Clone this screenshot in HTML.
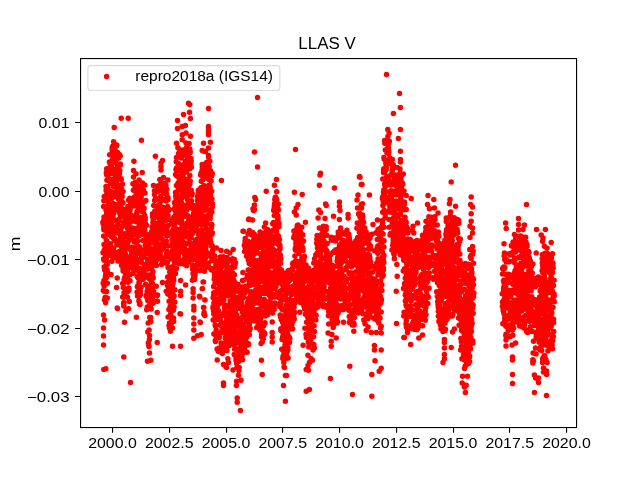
<!DOCTYPE html>
<html><head><meta charset="utf-8"><title>LLAS V</title>
<style>html,body{margin:0;padding:0;background:#fff}body{width:640px;height:480px;overflow:hidden}</style></head>
<body>
<svg width="640" height="480" viewBox="0 0 640 480" style="display:block;will-change:transform">
<rect width="640" height="480" fill="#fff"/>
<g font-family="'Liberation Sans', sans-serif" fill="#000">
<path d="M102.8 222.2h.01M103 252.7h.01M103.1 223.7h.01M103.2 283.3h.01M103.3 290.4h.01M103.6 259h.01M103.6 206.6h.01M103.7 236.1h.01M103.8 200.7h.01M103.8 228.4h.01M103.8 227.6h.01M103.8 229.7h.01M104 219.2h.01M104 244.5h.01M104 291.2h.01M104 216.9h.01M104 280.6h.01M104 260.2h.01M104.1 286.1h.01M104.2 267.1h.01M104.2 250.2h.01M104.2 217.9h.01M104.2 196.6h.01M104.3 222.4h.01M104.3 285.5h.01M104.5 300.1h.01M104.6 245.6h.01M104.7 270.1h.01M104.7 230.3h.01M104.8 251.6h.01M104.8 236.8h.01M104.9 244.6h.01M104.9 270h.01M105.1 297.5h.01M105.1 253.2h.01M105.3 250.3h.01M105.3 278.9h.01M105.4 257.2h.01M105.4 297.2h.01M105.4 276.2h.01M105.5 247.7h.01M105.5 266.2h.01M105.6 302.7h.01M105.6 227.9h.01M105.6 247.9h.01M105.8 274.1h.01M105.9 272.1h.01M105.9 227.4h.01M105.9 247h.01M106 210.1h.01M106 186.4h.01M106 254.6h.01M106.1 190.2h.01M106.1 226.5h.01M106.2 225.3h.01M106.2 251.1h.01M106.3 220.7h.01M106.3 258h.01M106.3 240.5h.01M106.3 172.9h.01M106.4 223.9h.01M106.5 261.1h.01M106.5 269.7h.01M106.5 291.4h.01M106.6 174.8h.01M106.6 189.7h.01M106.6 256.4h.01M106.6 254.2h.01M106.7 241.1h.01M106.7 264.6h.01M106.7 168.7h.01M106.7 213.1h.01M106.7 248.8h.01M106.7 277.3h.01M106.7 298.3h.01M106.8 263.9h.01M106.8 171.6h.01M106.8 193.6h.01M106.9 271.3h.01M106.9 180.3h.01M106.9 191.9h.01M106.9 230.1h.01M107.1 225.1h.01M107.1 270h.01M107.1 195.3h.01M107.1 231.2h.01M107.2 186.7h.01M107.2 264.5h.01M107.3 271.7h.01M107.3 249.2h.01M107.3 283.3h.01M107.3 298h.01M107.4 196.8h.01M107.4 211.7h.01M107.4 186.8h.01M107.5 196.7h.01M107.5 215.7h.01M107.6 274.5h.01M107.6 248.3h.01M107.6 232h.01M107.7 234.4h.01M107.7 224.7h.01M107.7 233.7h.01M107.8 212.9h.01M107.9 228.8h.01M108 194.7h.01M108.1 188.2h.01M108.2 201.8h.01M108.3 204.3h.01M108.3 195.8h.01M108.3 248.9h.01M108.3 226.6h.01M108.3 178.9h.01M108.4 225.6h.01M108.4 232.3h.01M108.5 211.4h.01M108.5 213.4h.01M108.6 198.8h.01M108.8 216.4h.01M108.8 216.7h.01M108.9 215.4h.01M109 208.3h.01M109.2 248h.01M109.3 207.5h.01M109.3 174h.01M109.4 162.1h.01M109.4 234.4h.01M109.5 219.3h.01M109.5 174.2h.01M109.7 154.8h.01M109.9 194.8h.01M109.9 217.6h.01M109.9 244.2h.01M109.9 173.1h.01M110 215.3h.01M110.1 193.1h.01M110.1 211.8h.01M110.2 230.4h.01M110.2 228.4h.01M110.2 216.5h.01M110.2 164.3h.01M110.3 197.4h.01M110.3 252.9h.01M110.3 224.9h.01M110.3 243.7h.01M110.3 171.3h.01M110.3 225.7h.01M110.4 227h.01M110.4 198.7h.01M110.5 212.7h.01M110.5 166.2h.01M110.5 222.9h.01M110.6 250h.01M110.6 191.3h.01M110.6 179.6h.01M110.7 230.2h.01M110.7 183.6h.01M110.8 195.8h.01M110.8 248.4h.01M110.9 195.7h.01M110.9 165.4h.01M111 211.3h.01M111 166.5h.01M111 246.7h.01M111 195.5h.01M111.1 165.3h.01M111.1 230.3h.01M111.2 252.3h.01M111.2 193.6h.01M111.2 236.6h.01M111.4 228h.01M111.4 223.2h.01M111.4 182.3h.01M111.4 233.7h.01M111.8 256.2h.01M111.8 255.4h.01M111.8 233.6h.01M111.9 229.8h.01M111.9 261.3h.01M111.9 198.3h.01M112 235h.01M112.1 173.3h.01M112.1 170h.01M112.2 147.8h.01M112.2 150.2h.01M112.2 149.3h.01M112.2 225.5h.01M112.4 206h.01M112.4 183h.01M112.5 146.5h.01M112.5 250.4h.01M112.5 248.8h.01M112.6 194.4h.01M112.6 159.4h.01M112.6 194.7h.01M112.7 226.6h.01M112.8 168.8h.01M112.8 215.9h.01M112.9 249.5h.01M112.9 181.2h.01M113.1 180.4h.01M113.1 171.6h.01M113.1 237.8h.01M113.2 213.4h.01M113.2 250.2h.01M113.3 203.4h.01M113.3 181.4h.01M113.5 181.3h.01M113.5 248.6h.01M113.5 250.6h.01M113.5 212.5h.01M113.6 149.1h.01M113.6 141.8h.01M113.6 186.5h.01M113.6 254.6h.01M113.7 179h.01M113.8 211.4h.01M113.8 228.7h.01M113.8 252.2h.01M113.8 220.5h.01M113.9 213.2h.01M114 219.4h.01M114 155h.01M114 178.7h.01M114.2 240h.01M114.5 238.6h.01M114.5 195.6h.01M114.8 229.5h.01M114.9 149.3h.01M115 192.5h.01M115 240.7h.01M115 179.7h.01M115.1 177.9h.01M115.1 252.9h.01M115.3 208.4h.01M115.4 163.1h.01M115.4 256.7h.01M115.5 207.9h.01M115.5 174.2h.01M115.5 177.9h.01M115.7 151.6h.01M115.8 227.2h.01M116 173.6h.01M116 205h.01M116 232.9h.01M116.1 205.1h.01M116.1 257.7h.01M116.3 254.5h.01M116.4 188h.01M116.4 232.7h.01M116.4 146h.01M116.4 227.7h.01M116.5 159.5h.01M116.5 178.9h.01M116.6 253.1h.01M116.6 181.2h.01M116.7 159.3h.01M116.7 176.1h.01M116.8 197h.01M116.8 144.9h.01M116.8 244.8h.01M116.9 206.5h.01M117.1 172.7h.01M117.1 170.8h.01M117.3 169.7h.01M117.5 152.5h.01M117.5 205.1h.01M117.6 197.5h.01M117.6 209.4h.01M117.6 166.6h.01M117.7 205.7h.01M117.7 184.9h.01M117.8 194.1h.01M117.8 224.3h.01M117.9 244.6h.01M117.9 223h.01M118 261.1h.01M118 156.9h.01M118 196.9h.01M118.1 188.8h.01M118.1 196.9h.01M118.2 198.2h.01M118.2 168.5h.01M118.3 167.4h.01M118.3 169.8h.01M118.3 171.8h.01M118.4 198.1h.01M118.4 199h.01M118.5 166.1h.01M118.5 198.5h.01M118.6 167.8h.01M118.7 158h.01M118.8 194.9h.01M118.8 193.2h.01M118.8 185.3h.01M118.9 188.2h.01M119.1 190.5h.01M119.1 219.3h.01M119.1 255.8h.01M119.2 221h.01M119.3 190.4h.01M119.3 251.6h.01M119.3 154.5h.01M119.3 203.4h.01M119.4 243.3h.01M119.5 173.9h.01M119.6 212.4h.01M119.7 244.9h.01M119.7 255.6h.01M119.7 186.2h.01M119.8 170.4h.01M119.9 239.8h.01M119.9 155.6h.01M119.9 189.2h.01M120 239.5h.01M120 187.7h.01M120.2 156.1h.01M120.2 235.3h.01M120.2 214.7h.01M120.2 238.8h.01M120.3 199.2h.01M120.3 164.1h.01M120.3 213.3h.01M120.3 205h.01M120.4 165.1h.01M120.4 255.5h.01M120.4 244.8h.01M120.5 193.7h.01M120.6 242.5h.01M120.7 253.6h.01M120.7 242.1h.01M120.8 236.7h.01M120.8 236.3h.01M120.8 230.2h.01M120.9 211.3h.01M120.9 178.6h.01M121 233.8h.01M121 205.4h.01M121 260.7h.01M121.1 196.9h.01M121.1 253.9h.01M121.1 261.5h.01M121.1 195.6h.01M121.1 238h.01M121.2 199.9h.01M121.2 246.7h.01M121.2 188.8h.01M121.2 236.9h.01M121.3 179.5h.01M121.4 245.3h.01M121.4 215h.01M121.5 216h.01M121.5 256.9h.01M121.6 265.5h.01M121.6 247.2h.01M121.6 188.9h.01M121.6 216.3h.01M121.7 214.9h.01M121.8 254.3h.01M121.9 226.8h.01M121.9 242.7h.01M122.1 212h.01M122.1 257.2h.01M122.1 226.6h.01M122.1 251.5h.01M122.2 256.5h.01M122.2 196.6h.01M122.3 192.6h.01M122.3 237.1h.01M122.4 254.8h.01M122.5 184.3h.01M122.7 283.5h.01M122.7 296.9h.01M122.7 265.7h.01M122.8 259.4h.01M122.9 209.8h.01M122.9 262.7h.01M123 241h.01M123 202.7h.01M123 268.2h.01M123 215.7h.01M123 258.5h.01M123.1 271h.01M123.1 267.9h.01M123.1 191.5h.01M123.1 214.3h.01M123.3 209.6h.01M123.3 257.3h.01M123.4 287.4h.01M123.5 260.7h.01M123.5 216.4h.01M123.5 248.8h.01M123.5 283.3h.01M123.6 303.2h.01M123.6 260.4h.01M123.7 267.9h.01M123.7 305.9h.01M123.7 249.1h.01M123.7 244.3h.01M123.8 297.2h.01M123.8 302.6h.01M123.8 253.9h.01M123.9 210h.01M123.9 305.7h.01M123.9 223.1h.01M124 292.7h.01M124 209.6h.01M124 210.9h.01M124.2 279.4h.01M124.3 223.2h.01M124.4 213.2h.01M124.4 263.3h.01M124.5 251.1h.01M124.6 245.9h.01M124.6 293.6h.01M124.8 277.2h.01M124.8 296.6h.01M124.9 220.4h.01M125 233.7h.01M125 248.7h.01M125.1 278.9h.01M125.1 248.9h.01M125.2 248.7h.01M125.3 279.4h.01M125.3 253.7h.01M125.3 215.6h.01M125.3 234.8h.01M125.5 273.4h.01M125.6 275.5h.01M125.6 214.6h.01M125.6 273.8h.01M125.7 291.4h.01M125.7 257.8h.01M125.9 218.1h.01M125.9 311.1h.01M126 245.4h.01M126 213.5h.01M126 290.1h.01M126.1 223.1h.01M126.1 272.4h.01M126.1 236.6h.01M126.2 247.2h.01M126.2 226.3h.01M126.2 214.8h.01M126.3 273.3h.01M126.3 269.6h.01M126.3 269.7h.01M126.4 271.6h.01M126.5 256.3h.01M126.5 272.4h.01M126.5 235.8h.01M126.6 280.3h.01M126.7 213h.01M126.7 216.4h.01M126.7 271.7h.01M126.8 242h.01M126.8 269.4h.01M126.9 221.6h.01M126.9 260.9h.01M127 278.6h.01M127.1 297.1h.01M127.1 224.4h.01M127.2 270.4h.01M127.2 214.4h.01M127.4 215.5h.01M127.4 227.4h.01M127.4 247.8h.01M127.5 243.6h.01M127.5 272.3h.01M127.5 297.3h.01M127.5 226h.01M127.6 208.9h.01M127.7 228.8h.01M127.7 271.5h.01M127.8 223.5h.01M127.8 279.4h.01M127.8 291.6h.01M127.9 206.4h.01M127.9 280h.01M128 265.4h.01M128 225.1h.01M128 242h.01M128.1 241.7h.01M128.1 282.3h.01M128.3 248.4h.01M128.4 210.8h.01M128.4 231.9h.01M128.5 264.6h.01M128.5 281.3h.01M128.5 268.1h.01M128.6 260.7h.01M128.6 308.7h.01M128.6 220.4h.01M128.6 200.2h.01M128.7 288.1h.01M128.8 263.8h.01M128.8 247.7h.01M128.8 248.8h.01M128.8 229.8h.01M128.9 216.2h.01M129 288.7h.01M129 220.7h.01M129 290h.01M129.1 223.5h.01M129.1 238h.01M129.1 220.7h.01M129.2 281.1h.01M129.2 257.2h.01M129.2 216.8h.01M129.3 301.5h.01M129.3 266h.01M129.6 219.8h.01M129.6 199.7h.01M129.7 233.1h.01M129.7 218.2h.01M129.8 262.4h.01M129.8 198.3h.01M129.9 219.8h.01M129.9 210.3h.01M129.9 219.2h.01M130 274.8h.01M130 280.8h.01M130 247.2h.01M130.1 220.1h.01M130.1 237.5h.01M130.2 208.6h.01M130.3 236h.01M130.4 222.3h.01M130.4 204.5h.01M130.6 247.6h.01M130.7 233.7h.01M130.8 218.2h.01M130.8 249.9h.01M131.1 238.9h.01M131.1 248h.01M131.2 216.7h.01M131.2 215.1h.01M131.5 228.3h.01M131.5 218.7h.01M131.5 220.2h.01M131.5 252.9h.01M131.6 263.4h.01M131.7 257.6h.01M132.1 228.1h.01M132.1 199.9h.01M132.2 267.1h.01M132.2 263.3h.01M132.5 247.2h.01M132.9 255.2h.01M132.9 250.8h.01M133.1 273.3h.01M133.1 268.7h.01M133.1 262.4h.01M133.4 228.3h.01M133.4 256h.01M133.4 190.3h.01M133.5 200.8h.01M133.7 260.9h.01M133.7 248.6h.01M133.8 240.3h.01M134.1 260.1h.01M134.1 241.7h.01M134.2 261.1h.01M134.2 189.7h.01M134.2 234.5h.01M134.3 197.6h.01M134.4 231h.01M134.4 233.2h.01M134.5 197h.01M134.5 240.6h.01M134.6 252h.01M134.6 247.6h.01M134.6 240.6h.01M134.7 206.1h.01M134.7 251.5h.01M134.7 248.9h.01M134.8 262.9h.01M134.8 241.8h.01M134.9 202.8h.01M135 250.8h.01M135 200.7h.01M135.1 186.5h.01M135.2 261.1h.01M135.2 221.6h.01M135.2 217.1h.01M135.2 268.3h.01M135.4 262.5h.01M135.4 198.9h.01M135.4 182.3h.01M135.5 250.9h.01M135.6 200.5h.01M135.6 264.1h.01M135.7 201.1h.01M135.8 263.6h.01M135.8 268.8h.01M135.8 221.7h.01M135.9 188.8h.01M136 205.9h.01M136 254.5h.01M136.2 192.9h.01M136.2 186.4h.01M136.2 254h.01M136.2 215.6h.01M136.3 197.1h.01M136.3 192.3h.01M136.3 265.7h.01M136.3 240.2h.01M136.4 234.9h.01M136.4 232.3h.01M136.7 185.8h.01M136.7 250.3h.01M136.7 213.3h.01M136.7 185.6h.01M136.7 188.1h.01M136.7 231.4h.01M136.8 242.3h.01M136.9 259.1h.01M136.9 230.3h.01M137 211.5h.01M137.1 276.3h.01M137.1 292.1h.01M137.1 193.1h.01M137.1 249.5h.01M137.2 259.2h.01M137.2 185.2h.01M137.3 268h.01M137.3 247.1h.01M137.4 188.4h.01M137.4 246.2h.01M137.4 286.7h.01M137.5 228h.01M137.5 296h.01M137.5 249.2h.01M137.6 234.2h.01M137.6 241h.01M137.7 285.9h.01M137.7 232.8h.01M137.8 270.5h.01M137.8 247.7h.01M137.9 247.8h.01M138 276.8h.01M138 186.6h.01M138.1 277.9h.01M138.1 275.4h.01M138.5 259.8h.01M138.6 217.3h.01M138.7 251h.01M138.7 205.9h.01M138.7 207.2h.01M138.7 187.4h.01M138.7 249.1h.01M138.8 208.9h.01M138.9 301.1h.01M138.9 207.2h.01M139 230.6h.01M139 278.2h.01M139 282.4h.01M139.1 290.3h.01M139.1 235.8h.01M139.2 283.4h.01M139.2 246.7h.01M139.2 253.4h.01M139.3 207h.01M139.3 235.2h.01M139.3 224h.01M139.4 247h.01M139.4 281.3h.01M139.4 251.3h.01M139.4 194.1h.01M139.5 303.9h.01M139.5 282.6h.01M139.6 250h.01M139.6 295.7h.01M139.6 268.5h.01M139.7 295.5h.01M139.7 259.5h.01M139.7 249.9h.01M139.7 206.7h.01M139.8 209.3h.01M139.9 303.1h.01M139.9 220.6h.01M139.9 209.6h.01M140 280h.01M140 207.7h.01M140 304.6h.01M140 249.6h.01M140 289.7h.01M140 186.3h.01M140.1 259.9h.01M140.3 291.6h.01M140.3 217.5h.01M140.4 262h.01M140.4 202.8h.01M140.4 294.5h.01M140.5 190.1h.01M140.5 261.1h.01M140.5 201h.01M140.6 259.4h.01M140.6 270.9h.01M140.9 221.7h.01M141 287.2h.01M141.1 261h.01M141.2 197.1h.01M141.3 273.2h.01M141.3 233.3h.01M141.3 249.8h.01M141.5 255.8h.01M141.5 202.2h.01M141.6 262.5h.01M141.6 186.1h.01M141.7 211.2h.01M141.8 256.5h.01M142 223.3h.01M142 192.6h.01M142.1 202.6h.01M142.1 234.2h.01M142.2 204.3h.01M142.4 183.1h.01M142.5 211.8h.01M142.5 191.3h.01M142.5 222.4h.01M142.6 254.5h.01M142.6 271.6h.01M142.7 227.7h.01M142.8 193.5h.01M142.9 240.5h.01M142.9 231.9h.01M143.1 268.9h.01M143.1 279.2h.01M143.1 256.2h.01M143.4 193.1h.01M143.4 190.3h.01M143.4 222.2h.01M143.5 274.4h.01M143.5 212.1h.01M143.6 229.9h.01M143.7 275.3h.01M143.8 231.5h.01M143.8 255.7h.01M143.8 275.5h.01M143.8 255.3h.01M143.8 257.2h.01M143.8 255h.01M143.9 231.6h.01M144 230.9h.01M144 224.9h.01M144.1 208.1h.01M144.2 269h.01M144.2 221.9h.01M144.2 267.8h.01M144.3 234.6h.01M144.3 269.1h.01M144.4 269.9h.01M144.4 264.6h.01M144.4 201.8h.01M144.5 274.1h.01M144.6 229.1h.01M144.6 215.2h.01M144.6 267.4h.01M144.9 231.6h.01M145 193h.01M145.1 277.6h.01M145.1 233.4h.01M145.2 219.7h.01M145.2 217.7h.01M145.2 245.5h.01M145.2 265.6h.01M145.3 223.4h.01M145.4 268.1h.01M145.5 284.6h.01M145.6 224.4h.01M145.8 247h.01M145.9 200.6h.01M146 284.6h.01M146.1 296.2h.01M146.2 265.2h.01M146.2 265.2h.01M146.2 249.9h.01M146.2 237.8h.01M146.2 251.6h.01M146.5 235.5h.01M146.5 225.3h.01M146.6 294.7h.01M146.7 309.7h.01M146.9 241.3h.01M147 253.6h.01M147 240.6h.01M147.1 291.2h.01M147.1 264.5h.01M147.2 307.1h.01M147.3 248h.01M147.3 297.2h.01M147.4 253.8h.01M147.4 242.1h.01M147.4 275.8h.01M147.5 290.9h.01M147.5 298.4h.01M147.6 297.7h.01M147.6 298h.01M147.7 307.6h.01M147.7 260.4h.01M147.8 292.5h.01M147.8 287.4h.01M147.8 300.5h.01M147.8 261.6h.01M147.8 331.9h.01M148 254.1h.01M148 266.9h.01M148 269.1h.01M148 267.3h.01M148.1 275h.01M148.2 323.1h.01M148.2 259.4h.01M148.3 253.5h.01M148.3 343.1h.01M148.4 244.2h.01M148.4 249.2h.01M148.5 260h.01M148.7 295.2h.01M148.9 289h.01M148.9 266.8h.01M148.9 240.7h.01M148.9 300.3h.01M148.9 243.8h.01M148.9 247h.01M149 242.8h.01M149 346.5h.01M149.1 329.9h.01M149.1 296h.01M149.1 290.6h.01M149.1 308.5h.01M149.3 254h.01M149.3 259.3h.01M149.3 247.4h.01M149.4 339.5h.01M149.4 288.3h.01M149.5 335.6h.01M149.5 305.2h.01M149.5 279.1h.01M149.6 265.9h.01M149.6 254.6h.01M149.6 286.2h.01M149.6 305.6h.01M149.7 317.5h.01M149.7 265.3h.01M149.8 276h.01M149.9 243.1h.01M149.9 234.2h.01M150 285.9h.01M150.1 261.1h.01M150.1 307.7h.01M150.1 289.1h.01M150.2 235.6h.01M150.3 260.7h.01M150.4 306.5h.01M150.4 290h.01M150.4 260.1h.01M150.6 291.1h.01M150.6 285.6h.01M150.6 236.1h.01M150.7 321.8h.01M150.7 317.5h.01M150.7 251.9h.01M150.9 287.5h.01M151 234.9h.01M151 264.7h.01M151 299.5h.01M151.1 297.3h.01M151.1 309h.01M151.2 274.6h.01M151.2 290.6h.01M151.3 280.9h.01M151.4 280.1h.01M151.4 252.5h.01M151.6 282.9h.01M151.6 259.9h.01M151.7 267.6h.01M151.7 231.6h.01M151.7 297.6h.01M151.8 240.3h.01M151.9 251.1h.01M151.9 254.1h.01M151.9 284.2h.01M152 257.9h.01M152 289.9h.01M152.1 227h.01M152.2 297.4h.01M152.2 249.4h.01M152.3 274.9h.01M152.3 254.9h.01M152.3 249h.01M152.4 290.1h.01M152.5 255.7h.01M152.5 213.8h.01M152.6 283.9h.01M152.6 216.7h.01M152.6 294.9h.01M152.7 295h.01M152.7 258.7h.01M152.8 296.6h.01M152.8 242.6h.01M152.8 257.2h.01M152.8 291.8h.01M152.9 222.4h.01M152.9 271.6h.01M152.9 214.3h.01M152.9 214.9h.01M153 260.8h.01M153.1 303.3h.01M153.2 252.8h.01M153.2 255.3h.01M153.2 262.1h.01M153.2 278.1h.01M153.2 219.4h.01M153.2 220h.01M153.2 224.3h.01M153.3 225.2h.01M153.4 300.4h.01M153.4 257.3h.01M153.4 227.2h.01M153.6 291.4h.01M153.7 205.5h.01M153.9 224.2h.01M154 262.3h.01M154 237.7h.01M154.2 254h.01M154.2 256.1h.01M154.5 190.7h.01M154.5 194.6h.01M154.6 200.4h.01M154.6 213.7h.01M154.7 211.7h.01M154.7 249.5h.01M154.9 235.6h.01M154.9 210.9h.01M154.9 261.6h.01M155.1 229.3h.01M155.2 248.8h.01M155.2 241.8h.01M155.2 239.3h.01M155.4 228h.01M155.4 228h.01M155.4 244.5h.01M155.4 235.7h.01M155.4 237.2h.01M155.5 217.2h.01M155.5 223.2h.01M155.5 251.1h.01M155.6 259.4h.01M155.7 198.4h.01M155.7 213.7h.01M155.7 227.7h.01M155.8 230.5h.01M155.9 238.3h.01M155.9 260.8h.01M155.9 248.8h.01M155.9 251.9h.01M155.9 234.6h.01M156 235.6h.01M156 261.1h.01M156 216.3h.01M156.1 261.3h.01M156.2 247.1h.01M156.3 265.6h.01M156.4 243.5h.01M156.5 255.9h.01M156.6 244h.01M156.7 241.4h.01M156.7 245.1h.01M156.7 224.4h.01M156.7 249.2h.01M157 240.2h.01M157 213.7h.01M157.1 207h.01M157.1 186.2h.01M157.2 256.6h.01M157.3 251.8h.01M157.4 186.3h.01M157.4 255.6h.01M157.4 216h.01M157.5 252.4h.01M157.5 250.3h.01M157.7 256.4h.01M157.9 237.1h.01M157.9 191.4h.01M158 236.4h.01M158.1 188.7h.01M158.2 224.6h.01M158.2 248.6h.01M158.3 205.3h.01M158.4 236.3h.01M158.5 224.6h.01M158.6 254.3h.01M158.7 210.1h.01M158.7 208h.01M158.8 199.2h.01M158.8 252.7h.01M158.9 226.9h.01M158.9 230.8h.01M159 187.4h.01M159 186.1h.01M159.2 228.3h.01M159.2 218.3h.01M159.3 253h.01M159.3 248.1h.01M159.4 216.6h.01M159.4 210.1h.01M159.4 221.9h.01M159.5 205.6h.01M159.7 228.3h.01M159.7 237h.01M159.8 248.4h.01M159.8 203.4h.01M159.9 216.8h.01M160.1 197.5h.01M160.1 212.8h.01M160.2 252.2h.01M160.2 197.4h.01M160.2 255.1h.01M160.2 222.4h.01M160.3 223.1h.01M160.3 215.2h.01M160.3 226.9h.01M160.4 229.5h.01M160.5 185h.01M160.6 214.3h.01M160.6 233.4h.01M160.6 250h.01M160.7 210h.01M160.7 257.9h.01M160.7 211h.01M160.8 257.5h.01M160.8 201h.01M160.8 196.2h.01M160.9 198.5h.01M160.9 258.7h.01M161 185.7h.01M161 246.4h.01M161.2 190h.01M161.3 200.5h.01M161.4 219.6h.01M161.5 244h.01M161.5 218.5h.01M161.5 250.1h.01M161.6 209.5h.01M161.6 264.5h.01M161.7 259.8h.01M161.7 234.2h.01M161.8 259.3h.01M161.8 185.8h.01M162 245.4h.01M162 199h.01M162 190.3h.01M162.1 246.1h.01M162.1 239h.01M162.2 263.7h.01M162.3 188.1h.01M162.4 263.2h.01M162.4 233.2h.01M162.4 226.3h.01M162.5 262.5h.01M162.5 223.7h.01M162.6 223.3h.01M162.6 245.4h.01M162.8 262.9h.01M162.8 222h.01M162.9 185.3h.01M162.9 224.3h.01M163.1 191.4h.01M163.2 189.2h.01M163.2 244.5h.01M163.3 262.7h.01M163.3 231.8h.01M163.3 247.8h.01M163.3 208.1h.01M163.4 183.6h.01M163.5 207.8h.01M163.5 207.5h.01M163.6 212.3h.01M163.9 242.2h.01M163.9 216.1h.01M164 208.9h.01M164.2 245h.01M164.3 183.6h.01M164.4 211.7h.01M164.5 261.7h.01M164.5 243.1h.01M164.6 243.3h.01M164.7 230.6h.01M164.8 242.9h.01M164.9 185.6h.01M164.9 217.7h.01M165.1 231.7h.01M165.1 186.2h.01M165.2 226.8h.01M165.5 231.5h.01M165.6 193.7h.01M165.6 193.1h.01M165.8 256.6h.01M165.8 199.1h.01M165.9 185.2h.01M165.9 230.1h.01M166 229.3h.01M166.1 216.5h.01M166.1 263.1h.01M166.2 200.9h.01M166.4 241.2h.01M166.4 220.2h.01M166.4 256.4h.01M166.5 194h.01M166.5 233.3h.01M166.5 228.7h.01M166.5 253.4h.01M166.5 262.5h.01M166.6 189.4h.01M166.8 189.6h.01M166.8 235.2h.01M166.9 229.3h.01M167 251.3h.01M167 235.9h.01M167.1 219.7h.01M167.4 262.3h.01M167.5 254.8h.01M167.5 285.6h.01M167.6 235.8h.01M167.6 215.6h.01M167.7 206.4h.01M167.7 282.3h.01M167.7 277h.01M167.8 294.1h.01M167.8 286h.01M167.9 199.8h.01M167.9 216.1h.01M168 267h.01M168 197.7h.01M168 255.9h.01M168.1 215.7h.01M168.1 245.9h.01M168.1 267.4h.01M168.1 317.1h.01M168.1 256h.01M168.2 286.8h.01M168.3 225.6h.01M168.4 255.8h.01M168.5 255h.01M168.6 284.1h.01M168.6 210.5h.01M168.9 309.6h.01M169.1 301.2h.01M169.1 288.7h.01M169.1 325.5h.01M169.2 209.4h.01M169.2 267.7h.01M169.3 309.7h.01M169.5 233.9h.01M169.5 328.1h.01M169.5 322.9h.01M169.6 257h.01M169.7 271.9h.01M169.8 287.9h.01M170.1 324.3h.01M170.2 306.3h.01M170.2 287.4h.01M170.3 286.4h.01M170.4 296h.01M170.4 232.9h.01M170.5 273.9h.01M170.6 314.2h.01M170.6 276.4h.01M170.7 313.6h.01M170.8 272h.01M170.8 274.1h.01M170.8 325.7h.01M170.8 300.2h.01M170.8 323.5h.01M170.9 324.9h.01M171 258.7h.01M171 296.6h.01M171.1 305.3h.01M171.1 279.6h.01M171.3 274.2h.01M171.3 297.8h.01M171.3 282h.01M171.4 257.3h.01M171.4 266.9h.01M171.4 221h.01M171.5 274.9h.01M171.5 297.3h.01M171.5 292.3h.01M171.5 295.4h.01M171.6 321.4h.01M171.7 305.6h.01M171.8 245.2h.01M171.8 320.9h.01M171.8 273.4h.01M172 239.4h.01M172 244.3h.01M172.1 223.5h.01M172.1 293.3h.01M172.1 321.3h.01M172.2 234.6h.01M172.2 272.9h.01M172.3 251h.01M172.3 279.9h.01M172.3 292.9h.01M172.4 234.3h.01M172.4 219.4h.01M172.4 286.8h.01M172.5 327.9h.01M172.6 283.4h.01M172.6 284h.01M172.6 253.3h.01M172.6 281.4h.01M172.7 318.8h.01M172.8 245.9h.01M172.8 293.6h.01M172.8 310.4h.01M172.8 230.3h.01M172.9 281.4h.01M172.9 310.5h.01M172.9 221.8h.01M173 283.6h.01M173 268.7h.01M173 248.6h.01M173.1 249.3h.01M173.1 308.3h.01M173.2 297h.01M173.3 296.3h.01M173.3 247.7h.01M173.3 277.4h.01M173.5 305.9h.01M173.5 310h.01M173.5 257.5h.01M173.5 297h.01M173.5 243.8h.01M173.5 318h.01M173.6 278.5h.01M173.7 321.6h.01M173.7 280.8h.01M173.8 228.6h.01M173.8 217.3h.01M174 224.5h.01M174 230.1h.01M174 225.7h.01M174.1 296.1h.01M174.1 244.6h.01M174.1 306.8h.01M174.3 208.9h.01M174.4 208.7h.01M174.4 261.8h.01M174.5 202.8h.01M174.5 263h.01M174.5 253.3h.01M174.6 244.4h.01M174.7 233.3h.01M174.8 202.3h.01M174.8 226.9h.01M174.8 301.9h.01M174.9 289.7h.01M174.9 254.6h.01M175 207.3h.01M175 210.5h.01M175.4 255.4h.01M175.4 215.3h.01M175.5 192.4h.01M175.5 238h.01M175.5 273.5h.01M175.5 174.4h.01M175.5 268.3h.01M175.7 196.1h.01M175.9 196.5h.01M175.9 254.8h.01M176 198.1h.01M176 169.6h.01M176 234.1h.01M176.1 242.6h.01M176.1 233.2h.01M176.1 242.4h.01M176.2 161.7h.01M176.3 193.3h.01M176.4 168.3h.01M176.4 185.5h.01M176.5 268.4h.01M176.5 205.7h.01M176.5 157.4h.01M176.5 232.9h.01M176.5 248.4h.01M176.5 197h.01M176.6 245.4h.01M176.6 198.7h.01M176.7 175.4h.01M176.7 206.7h.01M176.7 222.1h.01M176.7 257.3h.01M176.7 170.7h.01M176.8 204h.01M176.8 176.1h.01M176.8 176h.01M177 222.1h.01M177 199.7h.01M177 208.3h.01M177.1 207.4h.01M177.3 167.8h.01M177.3 168.8h.01M177.5 200h.01M177.5 242h.01M177.5 248.1h.01M177.5 210.1h.01M177.5 216.3h.01M177.6 185.7h.01M177.6 218.2h.01M177.8 248.8h.01M177.8 166.4h.01M177.9 147.8h.01M177.9 235.3h.01M178 235.1h.01M178 182.9h.01M178.1 263.1h.01M178.3 189.3h.01M178.4 256.3h.01M178.4 214.6h.01M178.4 163.4h.01M178.4 198.1h.01M178.4 247.6h.01M178.4 167.9h.01M178.5 153.6h.01M178.6 208.7h.01M178.6 213.4h.01M178.6 163.7h.01M178.7 199.1h.01M178.7 199.2h.01M178.7 205.8h.01M178.8 242.2h.01M178.8 204.9h.01M178.8 182.6h.01M178.9 210h.01M178.9 263.5h.01M179 177.9h.01M179 253.1h.01M179.1 184.1h.01M179.1 211.9h.01M179.2 211.4h.01M179.2 229.6h.01M179.2 260.3h.01M179.2 166.8h.01M179.3 199.6h.01M179.4 181h.01M179.4 220.9h.01M179.5 176.4h.01M179.6 153.3h.01M179.7 200.3h.01M179.7 151.9h.01M179.8 247.3h.01M179.8 149.9h.01M179.8 260.9h.01M180 261.8h.01M180.2 197.4h.01M180.3 220.9h.01M180.3 246.7h.01M180.3 196.5h.01M180.3 261.9h.01M180.3 262.3h.01M180.4 183.5h.01M180.5 168.3h.01M180.5 171.1h.01M180.6 151.2h.01M180.6 182.2h.01M180.6 236.9h.01M180.6 247.3h.01M180.7 223.3h.01M180.8 238.9h.01M180.8 244.9h.01M180.9 263.5h.01M181.1 158h.01M181.2 219.9h.01M181.3 222.1h.01M181.3 153h.01M181.3 209.9h.01M181.4 246.5h.01M181.4 228.2h.01M181.4 150.3h.01M181.4 165.6h.01M181.5 166.2h.01M181.6 234h.01M181.6 214.2h.01M181.6 219h.01M181.6 185.8h.01M181.7 246.2h.01M181.7 210.1h.01M181.7 167.7h.01M181.7 191.7h.01M181.7 198.3h.01M181.7 203.1h.01M181.7 243.7h.01M181.8 186.1h.01M181.8 172.5h.01M181.8 234.9h.01M181.9 175.1h.01M182 224.6h.01M182.1 194.1h.01M182.1 168.3h.01M182.1 208.1h.01M182.2 240.6h.01M182.2 237.4h.01M182.2 165.2h.01M182.3 183.8h.01M182.3 237.5h.01M182.3 166.5h.01M182.3 223.4h.01M182.3 187.6h.01M182.4 155.9h.01M182.4 179.8h.01M182.5 250.4h.01M182.5 207h.01M182.5 235.6h.01M182.6 181.4h.01M182.6 175.1h.01M182.6 187.2h.01M182.7 251.9h.01M182.7 166.4h.01M182.7 168.1h.01M182.8 184.5h.01M182.9 248.7h.01M182.9 151.5h.01M182.9 152.4h.01M182.9 234.1h.01M183 183.8h.01M183.1 250.3h.01M183.1 208.6h.01M183.1 185.1h.01M183.2 261.9h.01M183.2 249.8h.01M183.3 242.4h.01M183.3 207.5h.01M183.4 149.9h.01M183.4 173.8h.01M183.4 233h.01M183.5 166.2h.01M183.5 209.4h.01M183.6 186.8h.01M183.6 180.8h.01M183.6 232.9h.01M183.7 211h.01M183.7 152h.01M183.7 211.1h.01M183.8 166.8h.01M183.9 246.8h.01M184 236h.01M184.1 164.5h.01M184.1 253.2h.01M184.1 172.2h.01M184.1 205.7h.01M184.2 231h.01M184.3 259h.01M184.3 247.1h.01M184.4 164.1h.01M184.4 212h.01M184.5 264.2h.01M184.6 263.1h.01M184.7 259.3h.01M184.7 255h.01M184.7 231.6h.01M184.8 249.2h.01M184.9 228.6h.01M185 234.2h.01M185 151.2h.01M185 196.4h.01M185.1 249.6h.01M185.1 231.7h.01M185.1 181.7h.01M185.2 212.3h.01M185.2 206.9h.01M185.2 257.6h.01M185.2 179.1h.01M185.3 161.1h.01M185.4 234.1h.01M185.4 181.1h.01M185.5 170.3h.01M185.6 249.7h.01M185.6 211.1h.01M185.6 188h.01M185.6 152.5h.01M185.7 216.3h.01M185.7 224.4h.01M185.8 252.2h.01M185.9 168.7h.01M185.9 179.8h.01M185.9 205.5h.01M186.1 208.5h.01M186.2 208.6h.01M186.2 164.8h.01M186.3 168.2h.01M186.3 236.1h.01M186.4 255.1h.01M186.4 205.6h.01M186.4 194.6h.01M186.4 264.2h.01M186.4 171.7h.01M186.4 259.2h.01M186.5 147.7h.01M186.6 195.6h.01M186.6 165.5h.01M186.7 265.8h.01M186.7 223.2h.01M186.7 210.2h.01M186.7 183.2h.01M186.7 235h.01M186.7 149h.01M186.8 235.5h.01M186.8 209.4h.01M186.8 216.4h.01M186.8 237h.01M186.8 153.4h.01M186.9 183.4h.01M187 189.9h.01M187 193.3h.01M187 192h.01M187.2 148.9h.01M187.2 163.6h.01M187.2 243.5h.01M187.4 243.1h.01M187.4 223.4h.01M187.5 156.8h.01M187.5 148.1h.01M187.5 223.9h.01M187.5 204.3h.01M187.5 149h.01M187.5 150.8h.01M187.5 215.6h.01M187.6 161.9h.01M187.6 199.8h.01M187.8 180.1h.01M187.8 195.5h.01M187.8 180.4h.01M187.9 200.1h.01M187.9 236.4h.01M188 162.9h.01M188.1 149.9h.01M188.1 155.5h.01M188.2 165.2h.01M188.2 160.1h.01M188.3 156.6h.01M188.3 182.5h.01M188.4 226.5h.01M188.4 217.9h.01M188.4 257.4h.01M188.5 168.4h.01M188.6 237.6h.01M188.6 166.4h.01M188.7 221.4h.01M188.7 262h.01M188.8 166.1h.01M188.8 193h.01M188.8 166.1h.01M188.8 186.2h.01M188.9 204.4h.01M189 216.7h.01M189.1 227h.01M189.2 242.2h.01M189.2 183.4h.01M189.2 251.7h.01M189.3 158.9h.01M189.3 217.1h.01M189.3 260.5h.01M189.3 165.8h.01M189.4 231.9h.01M189.4 207.2h.01M189.4 259.9h.01M189.4 183.9h.01M189.6 232.7h.01M189.6 223.9h.01M189.7 236.4h.01M189.7 168.7h.01M189.7 149h.01M189.8 159.4h.01M189.8 175.6h.01M189.8 163.6h.01M189.8 184.1h.01M189.9 222.2h.01M190 152.7h.01M190 250h.01M190.1 194h.01M190.1 244h.01M190.2 257.2h.01M190.2 151.5h.01M190.2 180.9h.01M190.5 223.8h.01M190.5 166.4h.01M190.6 206.7h.01M190.6 164.1h.01M190.7 256.4h.01M190.9 164.1h.01M190.9 256.9h.01M191 158.6h.01M191 218.4h.01M191.1 243.4h.01M191.1 166.3h.01M191.1 232.5h.01M191.1 256.7h.01M191.1 237.9h.01M191.2 160.9h.01M191.2 190.2h.01M191.2 247.5h.01M191.3 243.6h.01M191.4 167.3h.01M191.4 200.8h.01M191.4 255.6h.01M191.5 244.2h.01M191.5 250.9h.01M191.8 195.3h.01M191.9 256.1h.01M191.9 246.7h.01M191.9 220.3h.01M192 220.3h.01M192 246.5h.01M192 218.6h.01M192 243.8h.01M192.1 207.3h.01M192.1 193.5h.01M192.1 219.7h.01M192.2 234.1h.01M192.4 244.1h.01M192.4 280.3h.01M192.4 208.5h.01M192.6 249.8h.01M192.6 269.1h.01M192.7 265.9h.01M192.8 222.9h.01M192.8 245.2h.01M192.8 265.1h.01M192.9 205.2h.01M192.9 229.3h.01M193 273.4h.01M193.1 207.9h.01M193.1 250.9h.01M193.2 259.6h.01M193.3 221.7h.01M193.3 245.8h.01M193.3 221.3h.01M193.4 250.3h.01M193.5 213.5h.01M193.6 277.4h.01M193.6 279.7h.01M193.6 252h.01M193.7 214.9h.01M193.7 247.5h.01M193.8 248.1h.01M194 227.5h.01M194.1 219.1h.01M194.1 249.6h.01M194.1 250.4h.01M194.1 249.1h.01M194.2 218.7h.01M194.2 216.9h.01M194.2 213.8h.01M194.2 226.8h.01M194.3 211.8h.01M194.3 274.7h.01M194.5 279.4h.01M194.5 229.4h.01M194.6 254h.01M194.6 277.6h.01M194.7 243.8h.01M194.9 222.4h.01M194.9 273.6h.01M195 275.4h.01M195.1 253.6h.01M195.2 216.4h.01M195.2 265.2h.01M195.2 272.7h.01M195.4 210.9h.01M195.7 230.8h.01M195.7 240.4h.01M195.8 229.7h.01M196.1 268.4h.01M196.2 247.8h.01M196.3 227.7h.01M196.3 214.5h.01M196.3 243.3h.01M196.4 266.1h.01M196.4 239.5h.01M196.5 246.8h.01M196.6 207.7h.01M196.6 221.6h.01M196.6 265.7h.01M196.8 247h.01M197 205.9h.01M197.1 259h.01M197.1 224.9h.01M197.2 230h.01M197.2 248.9h.01M197.3 242h.01M197.3 215.2h.01M197.4 240.1h.01M197.4 217.7h.01M197.4 200.6h.01M197.4 208h.01M197.5 223.6h.01M197.5 243.9h.01M197.6 210.7h.01M197.6 261.5h.01M197.6 196.5h.01M197.7 213.7h.01M197.8 223h.01M197.9 209.9h.01M197.9 262.2h.01M197.9 263.4h.01M198 250.9h.01M198 250.3h.01M198.1 213.3h.01M198.1 203.6h.01M198.1 194.9h.01M198.1 242.5h.01M198.1 242.3h.01M198.2 218.9h.01M198.2 251.1h.01M198.3 258.9h.01M198.3 252.2h.01M198.3 190.3h.01M198.4 255.6h.01M198.4 203.5h.01M198.4 196.1h.01M198.4 253.1h.01M198.4 234.8h.01M198.5 261h.01M198.6 191.8h.01M198.8 198.1h.01M198.9 220.7h.01M198.9 254.4h.01M199 203.8h.01M199.1 234.9h.01M199.1 206.1h.01M199.2 244.3h.01M199.2 244.7h.01M199.2 232.8h.01M199.3 222.5h.01M199.3 205.7h.01M199.3 236.2h.01M199.4 208.8h.01M199.4 245.5h.01M199.4 239.8h.01M199.5 220.7h.01M199.5 191.2h.01M199.6 189.4h.01M199.6 221.6h.01M199.6 253.3h.01M199.8 240.1h.01M199.8 208.2h.01M199.8 234h.01M199.9 192.1h.01M199.9 232.7h.01M199.9 259.9h.01M199.9 260.3h.01M200 260.6h.01M200 200.3h.01M200 252.1h.01M200 254.9h.01M200.2 222.4h.01M200.2 259.1h.01M200.3 204.5h.01M200.3 234.2h.01M200.3 251.5h.01M200.3 200.2h.01M200.4 220h.01M200.4 218.6h.01M200.5 213.3h.01M200.5 214.9h.01M200.5 223.3h.01M200.6 235.4h.01M200.6 174.9h.01M200.7 249.4h.01M200.7 189.1h.01M200.8 224.6h.01M200.8 234.7h.01M200.9 216.8h.01M200.9 250.6h.01M200.9 187.7h.01M200.9 250.4h.01M201 173.3h.01M201 264.5h.01M201 237.7h.01M201.1 197.7h.01M201.2 235.4h.01M201.2 197.6h.01M201.2 224.8h.01M201.3 188.5h.01M201.3 181.2h.01M201.4 199.9h.01M201.5 199.8h.01M201.5 201.1h.01M201.5 197.9h.01M201.6 229.8h.01M201.6 231.6h.01M201.6 189.2h.01M201.6 266.3h.01M201.6 230.1h.01M201.7 230.8h.01M201.8 247.7h.01M201.9 252.7h.01M201.9 243.6h.01M202 170.7h.01M202 240.5h.01M202.1 203.8h.01M202.1 258h.01M202.1 205.6h.01M202.1 217.8h.01M202.1 244h.01M202.2 242.4h.01M202.2 240.3h.01M202.3 205.5h.01M202.3 167.6h.01M202.3 250.8h.01M202.4 190.6h.01M202.5 246h.01M202.5 199.9h.01M202.6 169.2h.01M202.7 234.9h.01M202.8 179.7h.01M202.8 200.3h.01M202.9 215.7h.01M203 194.8h.01M203.1 187.5h.01M203.1 236.7h.01M203.1 168.7h.01M203.1 200.6h.01M203.2 261.3h.01M203.2 217.8h.01M203.3 188.2h.01M203.3 221.1h.01M203.3 238.8h.01M203.4 190.2h.01M203.6 192.3h.01M203.6 172.5h.01M203.6 220h.01M203.7 185.9h.01M203.7 165.7h.01M203.8 165.9h.01M203.8 208.9h.01M203.8 242.3h.01M203.8 200.2h.01M203.9 173.8h.01M204.1 203.2h.01M204.1 194.4h.01M204.1 200.4h.01M204.1 250.5h.01M204.2 185.8h.01M204.3 210.2h.01M204.4 224.3h.01M204.4 255h.01M204.5 251.7h.01M204.5 164.2h.01M204.5 189.2h.01M204.5 260.9h.01M204.5 167.3h.01M204.6 221.1h.01M204.7 176.3h.01M204.7 164.7h.01M204.7 254.9h.01M204.8 254.7h.01M204.8 251.6h.01M204.9 251.4h.01M205 165.2h.01M205.1 206.5h.01M205.3 170.2h.01M205.3 266.6h.01M205.3 262.9h.01M205.4 192.5h.01M205.4 244.2h.01M205.4 247h.01M205.7 257.8h.01M205.7 176.4h.01M205.7 195.1h.01M205.7 244.2h.01M205.8 175.7h.01M205.8 229.1h.01M205.8 190h.01M205.9 168.3h.01M205.9 247h.01M206 187.7h.01M206 250.7h.01M206.1 163.8h.01M206.3 208.4h.01M206.4 192.2h.01M206.4 205.3h.01M206.5 254h.01M206.5 177.1h.01M206.5 229.1h.01M206.5 265.9h.01M206.5 198.5h.01M206.5 239.2h.01M206.5 236.4h.01M206.6 176.2h.01M206.6 221.6h.01M206.7 216.7h.01M206.7 233.5h.01M206.8 243.3h.01M206.8 162.3h.01M206.9 216.8h.01M206.9 215.9h.01M206.9 241.1h.01M206.9 170.6h.01M206.9 241.9h.01M207 173.6h.01M207.2 223.9h.01M207.2 265.6h.01M207.2 239.5h.01M207.2 175h.01M207.2 164.1h.01M207.2 234.1h.01M207.3 171.3h.01M207.4 166.5h.01M207.4 178.3h.01M207.7 173.6h.01M207.8 164.5h.01M208 266.1h.01M208 175.4h.01M208.2 172.5h.01M208.3 165.4h.01M208.3 262.9h.01M208.3 187.4h.01M208.3 265.9h.01M208.4 230.5h.01M208.4 218.5h.01M208.5 267.3h.01M208.5 179.2h.01M208.6 185.6h.01M208.7 202.6h.01M208.7 185.7h.01M208.7 165.9h.01M208.9 194.8h.01M208.9 232.1h.01M209 185h.01M209.1 166.5h.01M209.1 213.6h.01M209.2 216h.01M209.3 255.8h.01M209.3 255.4h.01M209.3 254.4h.01M209.6 268.1h.01M209.6 178.5h.01M209.6 203.6h.01M209.7 185.5h.01M209.7 189.2h.01M209.7 196.1h.01M209.8 212.3h.01M209.8 201.4h.01M209.9 202.6h.01M210 213h.01M210.1 237.6h.01M210.2 218.6h.01M210.2 187.6h.01M210.2 239.7h.01M210.2 216.7h.01M210.2 196.9h.01M210.2 254.9h.01M210.3 171.9h.01M210.5 195.2h.01M210.5 170.7h.01M210.6 253.5h.01M210.6 214.1h.01M210.7 255.4h.01M210.8 212.8h.01M210.9 209.5h.01M210.9 242.6h.01M210.9 190.9h.01M211.1 254.9h.01M211.1 180.8h.01M211.2 176.1h.01M211.3 200h.01M211.3 210.8h.01M211.4 233.6h.01M211.5 246.1h.01M211.5 269.9h.01M211.5 244.8h.01M211.5 270h.01M211.5 227.8h.01M211.5 224.4h.01M211.6 174.6h.01M211.6 256h.01M211.6 175.8h.01M211.6 175.9h.01M211.7 234.4h.01M211.7 191.3h.01M211.8 224.4h.01M211.8 211.9h.01M211.8 260.2h.01M211.9 198.9h.01M211.9 259.5h.01M211.9 260.8h.01M211.9 203.4h.01M212 254.9h.01M212.2 174h.01M212.2 173.4h.01M212.3 206.9h.01M212.3 232.8h.01M212.3 259.8h.01M212.3 245.9h.01M212.5 204.1h.01M212.5 251.5h.01M212.6 256.6h.01M212.6 250.4h.01M212.7 260.3h.01M212.9 307.7h.01M213.1 297.8h.01M213.1 306.8h.01M213.2 258.3h.01M213.2 320h.01M213.4 255.3h.01M213.5 256.3h.01M213.6 286.5h.01M213.6 310.9h.01M213.7 294.9h.01M213.8 313.9h.01M213.8 292.7h.01M213.9 334.1h.01M213.9 303h.01M214.1 268.2h.01M214.2 279.2h.01M214.2 298.9h.01M214.2 333.7h.01M214.5 295h.01M214.5 303.8h.01M214.5 274h.01M214.6 310.4h.01M214.6 276h.01M214.6 256h.01M214.6 294.2h.01M214.7 299.9h.01M214.8 301.9h.01M215.1 283.3h.01M215.2 325.1h.01M215.2 317.6h.01M215.3 319.6h.01M215.3 340.5h.01M215.4 314.1h.01M215.4 276.7h.01M215.5 326h.01M215.5 341.4h.01M215.5 299.4h.01M215.6 335h.01M215.7 335.5h.01M215.7 273.5h.01M215.8 264.8h.01M216 276.3h.01M216 333.4h.01M216.1 304.6h.01M216.2 330.1h.01M216.2 310.8h.01M216.3 265.4h.01M216.3 317.8h.01M216.4 260.9h.01M216.6 260.8h.01M216.7 292.9h.01M216.7 319.2h.01M216.8 303.6h.01M216.8 319.4h.01M216.9 319.1h.01M217.1 306.7h.01M217.1 348.9h.01M217.2 309.1h.01M217.2 311.1h.01M217.3 333.6h.01M217.5 289.3h.01M217.6 292.3h.01M217.7 279.2h.01M217.7 278.9h.01M218 314.5h.01M218 291.6h.01M218.1 304.7h.01M218.1 334.5h.01M218.2 335.2h.01M218.2 351.3h.01M218.4 310.6h.01M218.7 292.2h.01M218.7 333.5h.01M218.7 293.1h.01M218.7 348.3h.01M218.8 348.4h.01M218.8 261.3h.01M218.9 313.7h.01M218.9 303.8h.01M218.9 270.9h.01M219 337.7h.01M219 275.4h.01M219.1 276.8h.01M219.3 298.6h.01M219.4 300.8h.01M219.4 267.5h.01M219.4 351.6h.01M219.4 336.9h.01M219.5 286h.01M219.6 285.1h.01M219.6 261.6h.01M219.6 281.3h.01M219.7 275.1h.01M219.8 302.4h.01M219.8 284.6h.01M219.8 315.3h.01M220 276.4h.01M220.1 284.9h.01M220.1 257.1h.01M220.2 272.2h.01M220.2 288.7h.01M220.3 266.6h.01M220.3 325h.01M220.3 320.2h.01M220.3 257h.01M220.3 300.2h.01M220.4 288.8h.01M220.4 297.7h.01M220.4 282h.01M220.5 270.8h.01M220.5 301.2h.01M220.6 279.8h.01M220.7 316.7h.01M220.8 348.1h.01M220.8 257.6h.01M220.8 261.1h.01M220.8 261.3h.01M220.9 257.6h.01M221 281.4h.01M221.1 266.7h.01M221.1 325.3h.01M221.1 343.1h.01M221.2 298.4h.01M221.2 326.3h.01M221.3 274.5h.01M221.3 323.6h.01M221.3 286.5h.01M221.5 266.9h.01M221.7 346.2h.01M221.7 343.2h.01M221.8 262.5h.01M221.8 330.9h.01M221.9 299.7h.01M221.9 299.3h.01M222 299.5h.01M222 274.9h.01M222.1 289.4h.01M222.1 283h.01M222.1 294.4h.01M222.2 260.8h.01M222.2 296.2h.01M222.3 265.7h.01M222.3 285.7h.01M222.3 293.5h.01M222.3 297.6h.01M222.3 353.4h.01M222.4 282.1h.01M222.4 276h.01M222.4 303.1h.01M222.5 300.6h.01M222.6 298.9h.01M222.8 300.4h.01M222.8 301h.01M222.9 274.6h.01M222.9 272.8h.01M223 332.7h.01M223 285.2h.01M223.1 274.8h.01M223.2 256.7h.01M223.2 263.4h.01M223.2 293.6h.01M223.3 324h.01M223.4 298.9h.01M223.4 284h.01M223.5 261.7h.01M223.6 323.4h.01M223.8 323.1h.01M223.8 287.3h.01M223.8 300.2h.01M224 314.9h.01M224 350.5h.01M224.1 282.1h.01M224.1 312.2h.01M224.4 326.5h.01M224.5 323.9h.01M224.6 308.2h.01M224.6 275.5h.01M224.8 307h.01M224.8 277.9h.01M224.8 285.3h.01M224.9 278h.01M225.1 277.5h.01M225.1 257.5h.01M225.2 284.4h.01M225.2 338h.01M225.2 281.8h.01M225.3 290.4h.01M225.4 315.5h.01M225.6 325.6h.01M225.6 325.7h.01M225.6 346.6h.01M225.7 348.8h.01M225.7 348.2h.01M225.7 343.6h.01M225.8 322.2h.01M225.8 280.1h.01M225.8 294.7h.01M225.8 329h.01M225.9 341.6h.01M225.9 326.3h.01M225.9 337.3h.01M226 282.3h.01M226 292.8h.01M226 325.1h.01M226.1 289.5h.01M226.3 270.4h.01M226.4 316.9h.01M226.4 258.6h.01M226.6 317.7h.01M226.6 320.8h.01M226.6 280.6h.01M226.7 292.7h.01M226.7 332.9h.01M226.7 305.3h.01M226.8 294.4h.01M226.8 284.9h.01M226.8 312.4h.01M226.9 292.7h.01M227 280.6h.01M227 316.4h.01M227 315.5h.01M227 257.7h.01M227 350.5h.01M227.1 294.4h.01M227.1 330h.01M227.1 267.6h.01M227.1 263.5h.01M227.3 333.1h.01M227.3 326.5h.01M227.4 330h.01M227.4 326.1h.01M227.4 295.8h.01M227.6 294.3h.01M227.6 305.5h.01M227.6 283.4h.01M227.7 331.5h.01M227.7 334h.01M227.9 284.4h.01M227.9 338.5h.01M227.9 307.1h.01M227.9 322.6h.01M228 326.8h.01M228 284.1h.01M228 286.8h.01M228.1 294.6h.01M228.1 332.4h.01M228.2 319.7h.01M228.2 315.8h.01M228.3 325.2h.01M228.4 337.7h.01M228.4 313.2h.01M228.5 282.8h.01M228.5 284.1h.01M228.5 328.8h.01M228.5 326.1h.01M228.5 292.8h.01M228.8 260.1h.01M228.8 305.6h.01M228.9 275.1h.01M229 339.1h.01M229 315.4h.01M229.1 335.4h.01M229.2 321.6h.01M229.2 294h.01M229.3 316.1h.01M229.3 288h.01M229.3 288.3h.01M229.3 334.1h.01M229.4 283h.01M229.4 345.5h.01M229.5 316.9h.01M229.5 324.6h.01M229.6 288.6h.01M229.7 337.8h.01M229.7 286h.01M229.7 272.2h.01M229.7 289.2h.01M229.9 260.5h.01M230 278.6h.01M230 340.8h.01M230 333h.01M230.1 300.7h.01M230.1 291.2h.01M230.2 312.7h.01M230.3 327.9h.01M230.3 292.2h.01M230.3 308.5h.01M230.4 271.8h.01M230.4 327.1h.01M230.4 319.5h.01M230.4 321.5h.01M230.5 319.1h.01M230.6 312.9h.01M230.7 291.2h.01M230.8 316h.01M231 292.5h.01M231.1 306.4h.01M231.1 303.5h.01M231.1 320.1h.01M231.2 321.2h.01M231.2 313.4h.01M231.2 319.2h.01M231.3 267.6h.01M231.4 321.3h.01M231.4 293.9h.01M231.6 288.9h.01M231.7 295.6h.01M231.8 336.1h.01M231.9 337.9h.01M231.9 328.2h.01M232.1 323.9h.01M232.1 341.8h.01M232.2 310.9h.01M232.2 285.5h.01M232.3 279.9h.01M232.3 280.3h.01M232.3 341.2h.01M232.3 301h.01M232.4 311.2h.01M232.4 267.8h.01M232.4 336.6h.01M232.4 301h.01M232.5 278.4h.01M232.6 339.8h.01M232.6 330.5h.01M232.6 298.2h.01M232.6 258.7h.01M232.7 317.6h.01M232.7 273h.01M232.7 329.8h.01M232.8 314.3h.01M232.8 293.9h.01M232.8 281.2h.01M232.8 312.6h.01M232.9 261.9h.01M232.9 344.3h.01M233 282.7h.01M233 296.5h.01M233 334.5h.01M233 265.8h.01M233.1 319.7h.01M233.1 302.4h.01M233.1 343.9h.01M233.2 278.9h.01M233.3 278.9h.01M233.3 323.7h.01M233.5 274.5h.01M233.5 338.4h.01M233.5 301.8h.01M233.7 265.2h.01M233.7 267.4h.01M233.8 319.4h.01M233.8 306.1h.01M234.1 309h.01M234.2 292.6h.01M234.2 354.4h.01M234.2 292h.01M234.2 324.6h.01M234.2 259.3h.01M234.2 318.1h.01M234.3 328.2h.01M234.3 281.6h.01M234.3 274.8h.01M234.4 281.9h.01M234.4 274.8h.01M234.4 318h.01M234.4 282.4h.01M234.4 333.8h.01M234.5 307.8h.01M234.5 291.8h.01M234.5 316.6h.01M234.5 267h.01M234.6 299.1h.01M234.7 333.8h.01M234.7 349.3h.01M234.8 307.4h.01M234.9 290.9h.01M235 347.2h.01M235.1 297.4h.01M235.1 285.9h.01M235.1 304.5h.01M235.1 337.3h.01M235.2 264.2h.01M235.2 312.3h.01M235.3 306.5h.01M235.4 337.9h.01M235.4 300.4h.01M235.4 298.9h.01M235.4 307.2h.01M235.4 310.7h.01M235.5 332.6h.01M235.5 262.7h.01M235.7 306.5h.01M235.7 349.2h.01M235.8 307.6h.01M235.8 348.7h.01M236 360.2h.01M236 357.5h.01M236.1 323.1h.01M236.1 334.6h.01M236.1 301.1h.01M236.2 308.4h.01M236.2 324.4h.01M236.2 323.3h.01M236.3 342.7h.01M236.4 301.5h.01M236.5 337.7h.01M236.7 363.5h.01M236.7 333.1h.01M236.8 323.1h.01M236.8 297.4h.01M236.8 314.9h.01M236.8 319.9h.01M237.1 334.2h.01M237.1 338.1h.01M237.5 361h.01M237.7 318.1h.01M237.7 307.1h.01M237.7 299h.01M237.8 284.8h.01M237.9 289.7h.01M237.9 333.6h.01M237.9 302.3h.01M238 300.7h.01M238 284.2h.01M238.1 297.4h.01M238.1 300.3h.01M238.1 332.3h.01M238.4 321.1h.01M238.4 301.5h.01M238.5 361.6h.01M238.5 359.8h.01M238.6 351h.01M238.6 356.1h.01M238.7 326.9h.01M238.7 299.6h.01M238.7 307h.01M238.8 334.4h.01M239 336.6h.01M239.1 308.2h.01M239.1 306.9h.01M239.2 350.7h.01M239.2 367.4h.01M239.2 307.5h.01M239.4 341.4h.01M239.5 350.2h.01M239.6 349.2h.01M239.6 323.2h.01M239.7 292.6h.01M239.8 299.4h.01M239.8 324.6h.01M239.9 337.2h.01M239.9 352.9h.01M240 348.7h.01M240 297.6h.01M240.1 342.8h.01M240.1 297.1h.01M240.1 304.3h.01M240.1 333.8h.01M240.2 298.9h.01M240.2 331h.01M240.2 342.9h.01M240.3 350.3h.01M240.3 321h.01M240.4 296.2h.01M240.5 299.5h.01M240.8 344.9h.01M241 333.2h.01M241 319.8h.01M241 330h.01M241.2 300.4h.01M241.2 323.8h.01M241.5 348.1h.01M241.6 331.7h.01M241.7 334.7h.01M241.7 299.1h.01M241.7 327.5h.01M241.8 303h.01M241.8 339.9h.01M241.9 332.1h.01M241.9 355.9h.01M242 355.8h.01M242.1 351.6h.01M242.2 327.2h.01M242.2 340.7h.01M242.2 287.1h.01M242.3 350.1h.01M242.3 330.7h.01M242.4 298.4h.01M242.4 344.6h.01M242.5 306.5h.01M242.5 359.8h.01M242.5 344.3h.01M242.5 312.3h.01M242.5 280.4h.01M242.6 346.2h.01M242.6 316.7h.01M242.6 349.6h.01M242.6 351.7h.01M242.6 346h.01M242.8 346.3h.01M242.9 272.4h.01M242.9 326.5h.01M243.1 306.9h.01M243.2 288.3h.01M243.2 335.3h.01M243.3 332.2h.01M243.3 326.4h.01M243.3 351.6h.01M243.3 352.8h.01M243.4 296.6h.01M243.4 280.3h.01M243.5 310.9h.01M243.5 346h.01M243.6 349.5h.01M243.7 330.7h.01M243.8 314h.01M243.9 330.7h.01M243.9 347.9h.01M243.9 317h.01M244 343.9h.01M244 343.9h.01M244.1 339.6h.01M244.2 292.2h.01M244.3 336.2h.01M244.3 245.2h.01M244.5 288h.01M244.5 288.9h.01M244.6 251.5h.01M244.7 291.5h.01M244.9 350.8h.01M244.9 350.6h.01M245 293h.01M245 243.9h.01M245 289.4h.01M245.1 241.3h.01M245.2 247.8h.01M245.2 238.4h.01M245.3 339.3h.01M245.4 340.6h.01M245.4 241.3h.01M245.4 346h.01M245.5 290.6h.01M245.6 243.8h.01M245.6 340.4h.01M245.7 249.1h.01M245.8 328.7h.01M246 334.6h.01M246 250.5h.01M246 286.3h.01M246.1 327.9h.01M246.2 321.9h.01M246.2 241.3h.01M246.3 331.1h.01M246.3 306.7h.01M246.4 243.8h.01M246.4 242.3h.01M246.4 312h.01M246.5 245.3h.01M246.6 289.2h.01M246.6 256.2h.01M246.7 337.1h.01M246.8 333.3h.01M246.8 334.8h.01M246.8 244h.01M246.9 320.8h.01M247 277.8h.01M247.1 308.4h.01M247.1 352.2h.01M247.3 244h.01M247.4 290.5h.01M247.4 248.1h.01M247.5 275.3h.01M247.6 314.7h.01M247.6 311.8h.01M247.6 252.3h.01M247.7 278.1h.01M247.7 302h.01M247.7 303.6h.01M247.8 244.6h.01M247.8 335.3h.01M247.8 344.4h.01M247.9 316.5h.01M248.1 298.7h.01M248.1 303.5h.01M248.1 233.9h.01M248.2 270.1h.01M248.2 328.9h.01M248.3 260.1h.01M248.3 251.1h.01M248.3 344.9h.01M248.4 243.7h.01M248.4 241.5h.01M248.4 277.1h.01M248.5 343.7h.01M248.5 270.1h.01M248.7 254.8h.01M248.7 333.1h.01M248.9 303.1h.01M248.9 260.7h.01M248.9 251.4h.01M249 233h.01M249.1 253.5h.01M249.1 302.3h.01M249.1 281.2h.01M249.1 258.2h.01M249.2 323.1h.01M249.2 263.5h.01M249.3 334.7h.01M249.3 261.9h.01M249.3 324.7h.01M249.4 284h.01M249.4 284.3h.01M249.6 330.3h.01M249.6 327.7h.01M249.6 247.9h.01M249.8 233.1h.01M249.8 249.5h.01M249.9 307.4h.01M249.9 278.1h.01M249.9 316h.01M250 285.5h.01M250.1 312h.01M250.1 313.4h.01M250.2 285.1h.01M250.2 328.2h.01M250.2 258.8h.01M250.3 271.8h.01M250.3 262.9h.01M250.3 245.5h.01M250.3 262.5h.01M250.4 302.1h.01M250.5 258.5h.01M250.5 253.7h.01M250.5 256.5h.01M250.6 264.6h.01M250.6 319h.01M250.6 261.6h.01M250.7 294.7h.01M250.7 309.1h.01M250.8 270.2h.01M250.9 313.4h.01M250.9 320.1h.01M250.9 273.3h.01M250.9 245.1h.01M251 247.1h.01M251 317.8h.01M251.1 308.4h.01M251.2 307.9h.01M251.2 264.7h.01M251.2 270.5h.01M251.2 262.9h.01M251.5 304.4h.01M251.5 305.9h.01M251.6 316.5h.01M251.6 291.8h.01M251.7 243.3h.01M252.1 273.4h.01M252.1 235.1h.01M252.2 271.7h.01M252.2 298.1h.01M252.2 305.1h.01M252.4 247.3h.01M252.4 283.5h.01M252.4 275.5h.01M252.4 317.3h.01M252.4 314.9h.01M252.6 298.7h.01M252.6 257.7h.01M252.6 298.6h.01M252.7 232.5h.01M252.7 242.4h.01M252.7 308.6h.01M252.7 314h.01M252.7 313.4h.01M252.8 309.4h.01M252.8 259h.01M252.8 293.4h.01M252.9 292.3h.01M253 241.7h.01M253 298.5h.01M253 272.2h.01M253 243.8h.01M253.1 255.2h.01M253.2 317.5h.01M253.2 284.5h.01M253.3 234.2h.01M253.3 271.9h.01M253.3 271h.01M253.4 302.8h.01M253.4 273.6h.01M253.5 234.9h.01M253.5 293.1h.01M253.7 279.3h.01M253.7 296.7h.01M253.7 239.9h.01M253.7 261.1h.01M253.8 321h.01M253.8 303.5h.01M253.8 254.1h.01M253.9 273.6h.01M253.9 248.2h.01M253.9 237.6h.01M253.9 280.1h.01M254 270.7h.01M254 252.3h.01M254.1 233.9h.01M254.1 238h.01M254.1 266h.01M254.1 265.1h.01M254.1 316.2h.01M254.1 279.7h.01M254.2 253.9h.01M254.2 316.5h.01M254.3 320.4h.01M254.3 245.3h.01M254.4 278.7h.01M254.5 273.7h.01M254.5 295.1h.01M254.5 319.7h.01M254.5 236.1h.01M254.6 278.2h.01M254.6 242.6h.01M254.6 317.1h.01M254.6 279.2h.01M254.6 249.2h.01M254.6 294.3h.01M254.7 269.7h.01M254.7 251.6h.01M254.8 319.3h.01M254.8 272.8h.01M254.8 265.7h.01M254.9 260.6h.01M255 244.9h.01M255.1 275.4h.01M255.1 238.7h.01M255.2 316.5h.01M255.2 271.4h.01M255.3 281h.01M255.3 298h.01M255.4 247.5h.01M255.4 297.8h.01M255.4 250.6h.01M255.5 316h.01M255.5 317.6h.01M255.5 279.6h.01M255.6 244.6h.01M255.6 295.3h.01M255.6 296h.01M255.7 315.7h.01M255.8 284.8h.01M255.9 252.9h.01M255.9 298.8h.01M255.9 283.1h.01M255.9 289.7h.01M256.1 299.5h.01M256.2 309.7h.01M256.3 316.5h.01M256.3 296.2h.01M256.4 252.9h.01M256.4 317h.01M256.5 283.9h.01M256.7 250.9h.01M256.8 315h.01M256.9 315.1h.01M256.9 289.3h.01M257 236.7h.01M257.1 270.5h.01M257.1 302.1h.01M257.1 281.1h.01M257.2 302.8h.01M257.3 295.9h.01M257.6 320.6h.01M257.6 235.9h.01M257.7 281.8h.01M257.9 316.2h.01M258.1 236.3h.01M258.1 303.1h.01M258.2 315h.01M258.2 324.2h.01M258.2 262.9h.01M258.3 278.1h.01M258.3 301.8h.01M258.3 293.1h.01M258.4 247.2h.01M258.5 270.7h.01M258.5 281.2h.01M258.6 302.9h.01M258.9 273.1h.01M258.9 282.6h.01M258.9 247h.01M259 260.3h.01M259 246.9h.01M259.1 282.5h.01M259.1 297.6h.01M259.2 309.4h.01M259.2 323.1h.01M259.3 320.6h.01M259.3 291.2h.01M259.3 263.5h.01M259.4 329.1h.01M259.4 296.9h.01M259.4 267.2h.01M259.4 247.2h.01M259.4 244.3h.01M259.4 309.1h.01M259.4 240.1h.01M259.4 274.6h.01M259.4 295.2h.01M259.5 288h.01M259.7 310.7h.01M259.8 279.3h.01M259.8 300.3h.01M259.8 290.4h.01M259.9 244.9h.01M259.9 278.5h.01M260 326.9h.01M260 277.5h.01M260.1 232.1h.01M260.2 271.4h.01M260.2 326.8h.01M260.3 267.2h.01M260.3 330.2h.01M260.3 264.6h.01M260.3 291.7h.01M260.3 327.5h.01M260.4 262.5h.01M260.4 293h.01M260.4 268.1h.01M260.6 318.4h.01M260.6 262.8h.01M260.6 254.1h.01M260.6 244.6h.01M260.6 238.6h.01M260.7 287.5h.01M260.8 254.5h.01M260.8 313h.01M260.8 279.7h.01M260.9 233h.01M260.9 291.4h.01M261 292h.01M261 322.4h.01M261.1 304.6h.01M261.1 343.4h.01M261.3 276.7h.01M261.3 255.1h.01M261.4 242.7h.01M261.4 241.4h.01M261.4 255.9h.01M261.5 336.7h.01M261.5 244.9h.01M261.6 337.1h.01M261.6 254.4h.01M261.6 240.5h.01M261.6 334.8h.01M261.7 313h.01M261.7 239.9h.01M261.7 336.2h.01M261.7 255.5h.01M261.8 247.8h.01M261.8 260.9h.01M261.9 240.8h.01M262 291.2h.01M262.1 302.1h.01M262.1 325.1h.01M262.1 304.5h.01M262.2 313.1h.01M262.3 341.7h.01M262.3 271.5h.01M262.3 261.7h.01M262.3 293h.01M262.4 292.3h.01M262.5 281.2h.01M262.6 264h.01M262.6 241.4h.01M262.7 259.5h.01M262.7 291.6h.01M262.7 293.3h.01M262.7 280.9h.01M262.7 314.6h.01M262.8 241.6h.01M262.9 337.6h.01M263 312.5h.01M263 335.8h.01M263 293.1h.01M263.1 331.5h.01M263.1 271.6h.01M263.1 288.1h.01M263.2 246.1h.01M263.2 306.7h.01M263.3 237.2h.01M263.3 273.2h.01M263.3 338.6h.01M263.4 290.5h.01M263.4 290h.01M263.4 277h.01M263.4 288.2h.01M263.5 278.8h.01M263.5 251.5h.01M263.6 278.1h.01M263.6 266.6h.01M263.6 264h.01M263.6 325.9h.01M263.7 301.4h.01M263.7 275.3h.01M263.7 267.4h.01M263.9 306.7h.01M263.9 260.8h.01M263.9 261.6h.01M264 290.3h.01M264.1 241.8h.01M264.2 299.3h.01M264.3 254.1h.01M264.3 257.9h.01M264.3 334.6h.01M264.5 261.6h.01M264.5 302.4h.01M264.5 333.1h.01M264.7 288h.01M264.8 333.6h.01M264.9 289h.01M264.9 240.4h.01M264.9 322.8h.01M265 323.1h.01M265 284.6h.01M265.1 293.3h.01M265.2 243.8h.01M265.3 305.7h.01M265.3 235.9h.01M265.4 232.6h.01M265.4 262.3h.01M265.5 293.3h.01M265.5 284.2h.01M265.5 315.6h.01M265.5 315.9h.01M265.5 261.9h.01M265.6 289.4h.01M265.6 279.1h.01M265.6 261.8h.01M265.8 237.5h.01M265.8 274.3h.01M265.9 265.4h.01M265.9 239.4h.01M265.9 256.1h.01M266 234.8h.01M266 241.6h.01M266 280h.01M266 291.9h.01M266.1 292.6h.01M266.1 274.6h.01M266.1 308.9h.01M266.2 313.5h.01M266.2 246.5h.01M266.2 263.5h.01M266.3 281h.01M266.3 279.1h.01M266.5 284.5h.01M266.5 230.8h.01M266.6 275.4h.01M266.6 313.7h.01M266.7 286.8h.01M266.7 281.2h.01M266.7 245.5h.01M266.7 233.3h.01M266.8 230.4h.01M266.8 301.7h.01M266.8 235.7h.01M266.8 244h.01M266.8 252h.01M266.9 250.8h.01M266.9 260.9h.01M267 269.9h.01M267.1 246.9h.01M267.1 234.9h.01M267.1 302.7h.01M267.1 267.9h.01M267.1 239.1h.01M267.2 254.6h.01M267.2 304.6h.01M267.2 231.4h.01M267.3 303.6h.01M267.4 314.9h.01M267.5 280.7h.01M267.6 265.1h.01M267.6 278.6h.01M267.8 229.7h.01M267.9 243.6h.01M268.1 260.2h.01M268.2 258.7h.01M268.2 303.1h.01M268.3 236.4h.01M268.3 273.4h.01M268.3 238.3h.01M268.4 306.7h.01M268.5 258.6h.01M268.5 305.4h.01M268.5 242.5h.01M268.5 267.4h.01M268.6 238.9h.01M268.6 274.4h.01M268.6 232.3h.01M268.7 242.9h.01M268.7 240.4h.01M268.9 234.6h.01M269 250.3h.01M269 244.7h.01M269 274.3h.01M269 235.5h.01M269 307h.01M269.1 308h.01M269.1 279.1h.01M269.1 306.4h.01M269.3 295h.01M269.4 295.4h.01M269.4 274.1h.01M269.4 252.8h.01M269.5 251.1h.01M269.5 303.8h.01M269.6 256.3h.01M269.7 273.3h.01M269.7 285.3h.01M269.8 245.4h.01M269.9 309h.01M269.9 265.2h.01M269.9 288h.01M270 304.8h.01M270.1 260.4h.01M270.1 311.4h.01M270.2 308.7h.01M270.2 260.1h.01M270.5 273.5h.01M270.5 275.1h.01M270.6 232.5h.01M270.7 247h.01M270.7 258.1h.01M270.8 298.2h.01M270.9 290.4h.01M270.9 303.3h.01M271.1 235.3h.01M271.2 275.2h.01M271.2 308.1h.01M271.2 297.6h.01M271.2 274.6h.01M271.3 257.9h.01M271.3 254.2h.01M271.4 240h.01M271.4 283.7h.01M271.4 241.4h.01M271.4 285.6h.01M271.4 272.7h.01M271.5 236.5h.01M271.5 247h.01M271.7 238.1h.01M271.8 237.4h.01M271.8 285.5h.01M271.9 244.6h.01M272 284.1h.01M272 263.3h.01M272 304.7h.01M272.1 284.6h.01M272.1 274.2h.01M272.1 275.8h.01M272.2 244.5h.01M272.4 248.8h.01M272.5 253.6h.01M272.5 273.1h.01M272.6 258h.01M272.6 313.1h.01M272.6 274.9h.01M272.7 223.7h.01M272.8 230.6h.01M272.9 266.3h.01M272.9 261.5h.01M273 294.4h.01M273.3 277h.01M273.4 304.8h.01M273.5 256h.01M273.5 222.5h.01M273.5 306h.01M273.6 265.6h.01M273.6 263.7h.01M273.7 210.6h.01M273.8 237.6h.01M273.8 263h.01M273.9 250.1h.01M274 306.7h.01M274 209.3h.01M274 280h.01M274.1 309.4h.01M274.1 288.5h.01M274.1 280.7h.01M274.2 278.3h.01M274.2 230.3h.01M274.2 294.5h.01M274.2 309.6h.01M274.3 215.6h.01M274.3 206.5h.01M274.3 305.4h.01M274.4 255.7h.01M274.6 304h.01M274.6 211h.01M274.6 255.7h.01M274.6 203.7h.01M274.7 254.4h.01M274.7 297.1h.01M274.7 280.7h.01M274.7 250.5h.01M274.7 303.1h.01M274.8 199.6h.01M274.8 240.2h.01M274.9 287.6h.01M275 240.3h.01M275 287.5h.01M275 241.8h.01M275.1 205.9h.01M275.1 227.8h.01M275.2 271.2h.01M275.2 214.1h.01M275.2 224h.01M275.2 229.9h.01M275.2 208.3h.01M275.3 197.3h.01M275.3 213.6h.01M275.4 230.6h.01M275.4 270.5h.01M275.4 275.2h.01M275.5 202.4h.01M275.5 284.1h.01M275.6 205.4h.01M275.6 225.6h.01M275.7 222.4h.01M275.7 295.1h.01M275.7 241.7h.01M275.7 204.4h.01M275.8 280.3h.01M275.8 197.4h.01M275.8 240.6h.01M275.9 208.9h.01M275.9 230.7h.01M275.9 205.6h.01M276 286.5h.01M276 276.7h.01M276.1 212.2h.01M276.3 213.3h.01M276.4 283.4h.01M276.4 231.2h.01M276.5 274.1h.01M276.5 262.8h.01M276.6 203.6h.01M276.6 199.3h.01M276.6 234.9h.01M276.6 236.7h.01M276.7 191.7h.01M276.7 200h.01M276.7 272.1h.01M276.8 274.2h.01M276.9 234.4h.01M276.9 227h.01M276.9 276.2h.01M277 262.9h.01M277 238.9h.01M277.1 223.6h.01M277.2 260.9h.01M277.2 238.8h.01M277.2 223.5h.01M277.3 209.8h.01M277.4 262h.01M277.5 243.7h.01M277.5 292.3h.01M277.5 261.7h.01M277.5 226.1h.01M277.5 223.8h.01M277.5 238.6h.01M277.6 271.2h.01M277.6 273.8h.01M277.6 243h.01M277.6 292.8h.01M277.7 220.6h.01M277.7 223.8h.01M277.8 262.2h.01M277.8 223.4h.01M277.8 226.1h.01M277.9 218.7h.01M277.9 218.6h.01M277.9 220.6h.01M277.9 216h.01M277.9 277.7h.01M277.9 254.5h.01M278 256.1h.01M278.1 221.3h.01M278.1 274.8h.01M278.1 208.8h.01M278.1 217.9h.01M278.1 261.2h.01M278.2 275.2h.01M278.3 203.9h.01M278.3 274.5h.01M278.4 209.9h.01M278.4 261.6h.01M278.5 236.2h.01M278.6 297.4h.01M278.7 261.3h.01M278.7 294.1h.01M278.7 267.1h.01M278.8 257.9h.01M278.8 273.9h.01M278.8 259.1h.01M278.9 226.7h.01M279 294.6h.01M279 243.6h.01M279 223.7h.01M279.3 295.7h.01M279.3 282.6h.01M279.3 245.6h.01M279.3 296.9h.01M279.4 254.1h.01M279.4 239.5h.01M279.4 292.5h.01M279.5 292.7h.01M279.7 249.6h.01M279.7 249.4h.01M279.8 280.5h.01M279.8 306.8h.01M279.9 305.1h.01M279.9 245.4h.01M280 260.9h.01M280 303h.01M280.1 305.8h.01M280.1 305.2h.01M280.1 247.9h.01M280.2 315h.01M280.3 277.9h.01M280.3 257.7h.01M280.4 255.2h.01M280.4 298.8h.01M280.4 291.1h.01M280.5 305h.01M280.5 304.6h.01M280.6 291.1h.01M280.6 263.2h.01M280.7 317.3h.01M280.8 328.7h.01M280.9 259.1h.01M280.9 329.2h.01M280.9 330.6h.01M281 303.3h.01M281.2 276.5h.01M281.3 319.8h.01M281.3 297.7h.01M281.3 319.6h.01M281.4 283.5h.01M281.5 270h.01M281.6 297.8h.01M281.6 308.3h.01M281.7 299.6h.01M281.7 349.2h.01M281.8 318.3h.01M281.9 318.9h.01M282 284.3h.01M282.1 339.4h.01M282.1 309.5h.01M282.6 337.1h.01M282.7 322.6h.01M282.8 329.4h.01M282.8 332.4h.01M282.8 358.4h.01M283 331.3h.01M283 356.6h.01M283.1 289.7h.01M283.2 326.2h.01M283.2 348.9h.01M283.2 316h.01M283.2 273.1h.01M283.3 286.3h.01M283.4 334.9h.01M283.5 287.5h.01M283.5 355.8h.01M283.5 324.8h.01M283.6 276.6h.01M283.6 338.8h.01M283.6 323h.01M283.8 309.2h.01M283.8 310.1h.01M283.8 317.3h.01M283.8 284.9h.01M283.9 352.1h.01M283.9 328.1h.01M284.2 284.1h.01M284.2 350.7h.01M284.2 295.4h.01M284.2 275.2h.01M284.4 286.8h.01M284.4 279.9h.01M284.4 290.3h.01M284.5 275h.01M284.6 328.2h.01M284.6 289.4h.01M284.8 285.5h.01M284.8 285h.01M284.8 297.3h.01M284.9 274.9h.01M284.9 330.9h.01M284.9 338.8h.01M285 356.1h.01M285 344.9h.01M285.1 295.7h.01M285.3 288.9h.01M285.3 341.7h.01M285.3 331h.01M285.5 298.6h.01M285.5 295.4h.01M285.6 275.7h.01M285.6 322h.01M285.6 325.1h.01M285.6 311.2h.01M285.7 300.1h.01M285.8 309.1h.01M285.8 327.2h.01M285.8 276.8h.01M286 281h.01M286.1 352.5h.01M286.2 336.6h.01M286.2 329.4h.01M286.4 288.2h.01M286.4 279h.01M286.4 305.2h.01M286.4 335.2h.01M286.4 326.1h.01M286.4 321.1h.01M286.5 353.9h.01M286.6 274.9h.01M286.6 305.7h.01M286.8 313.1h.01M286.8 323.2h.01M286.9 304.7h.01M286.9 349.7h.01M287 328.9h.01M287 312.8h.01M287 304.4h.01M287.1 274.4h.01M287.2 272.6h.01M287.3 334.4h.01M287.3 337.3h.01M287.3 285.1h.01M287.3 288.5h.01M287.4 292.2h.01M287.4 358.3h.01M287.4 273.7h.01M287.4 350.9h.01M287.5 333.7h.01M287.7 347.2h.01M287.8 308.1h.01M287.8 285.2h.01M287.9 349.4h.01M287.9 316.6h.01M288 320.1h.01M288.1 271.1h.01M288.1 358h.01M288.1 315.9h.01M288.2 304.3h.01M288.4 310.9h.01M288.4 279.6h.01M288.5 311.5h.01M288.6 270.5h.01M288.6 277.3h.01M288.8 314.8h.01M288.8 336.4h.01M288.9 320.5h.01M289 321.5h.01M289.1 276.4h.01M289.1 336.9h.01M289.3 315.8h.01M289.3 327.8h.01M289.3 275.2h.01M289.4 280.7h.01M289.4 342.4h.01M289.7 329.1h.01M289.8 338.5h.01M289.8 299.4h.01M290.1 293.3h.01M290.2 278.8h.01M290.2 291.2h.01M290.8 290.2h.01M290.9 310.9h.01M291 313.9h.01M291 278.2h.01M291 304.6h.01M291.1 294.8h.01M291.1 313.3h.01M291.3 293h.01M291.3 317.8h.01M291.3 316.6h.01M291.4 276.4h.01M291.4 274.3h.01M291.4 273.8h.01M291.5 307.9h.01M291.7 292.9h.01M291.8 324.5h.01M291.8 314.9h.01M291.8 307.2h.01M292 288.4h.01M292.1 275.9h.01M292.4 328.9h.01M292.4 306.6h.01M292.4 268.2h.01M292.5 269.6h.01M292.5 310.8h.01M292.6 328.7h.01M292.6 277.1h.01M292.6 279.1h.01M292.6 288.8h.01M292.7 263.7h.01M292.7 303.8h.01M292.7 321.2h.01M292.9 321.3h.01M292.9 275.9h.01M293 263.1h.01M293.1 300.7h.01M293.2 286.3h.01M293.2 311.2h.01M293.2 289.3h.01M293.3 315h.01M293.5 318.6h.01M293.6 262.7h.01M293.6 306.4h.01M293.7 237.7h.01M293.8 263.8h.01M293.8 301.1h.01M293.9 317.7h.01M293.9 231h.01M294 307.3h.01M294 290.3h.01M294.2 237.6h.01M294.2 318.9h.01M294.2 289.2h.01M294.3 264.1h.01M294.3 313h.01M294.3 312.1h.01M294.4 265.8h.01M294.4 235.8h.01M294.6 264.4h.01M294.7 301.6h.01M294.7 285h.01M294.8 303.3h.01M294.9 256h.01M295 266h.01M295.2 249h.01M295.2 302.1h.01M295.5 284.3h.01M295.5 281.5h.01M295.6 250.2h.01M295.6 247.8h.01M295.6 288.3h.01M295.7 239.5h.01M295.7 261.1h.01M295.8 246.8h.01M295.9 243.3h.01M296 241.4h.01M296 243.1h.01M296.1 238.8h.01M296.1 299.5h.01M296.1 238.8h.01M296.2 294.1h.01M296.2 265.5h.01M296.4 295.4h.01M296.6 298.2h.01M296.6 284.7h.01M296.6 246.2h.01M296.7 241.4h.01M296.7 236.3h.01M296.7 272.8h.01M296.7 292.7h.01M296.8 277h.01M296.8 265.8h.01M296.9 234.9h.01M297 285.1h.01M297 300.4h.01M297 243.8h.01M297 227.7h.01M297.1 276.1h.01M297.2 248.7h.01M297.2 264.6h.01M297.3 225.5h.01M297.4 281.4h.01M297.4 297.9h.01M297.5 248.8h.01M297.5 293.7h.01M297.7 272.5h.01M297.7 281.6h.01M297.7 238.6h.01M297.7 250.7h.01M297.7 263.1h.01M297.7 261.4h.01M297.9 286.1h.01M297.9 236.4h.01M298 225.1h.01M298.1 227.3h.01M298.1 264.7h.01M298.1 284.6h.01M298.1 262.4h.01M298.1 288.2h.01M298.2 284h.01M298.3 265.1h.01M298.4 298h.01M298.4 294.9h.01M298.4 284.4h.01M298.4 282.5h.01M298.4 284.9h.01M298.6 263.5h.01M298.7 230.8h.01M298.7 263.4h.01M298.8 269.5h.01M298.9 228h.01M298.9 253.5h.01M298.9 287h.01M299 271.1h.01M299 292.1h.01M299 270.4h.01M299.1 231.8h.01M299.1 275.9h.01M299.2 244.9h.01M299.2 287.3h.01M299.2 265.8h.01M299.4 282.3h.01M299.4 291.7h.01M299.5 276.2h.01M300 291.4h.01M300 271.3h.01M300.1 239.2h.01M300.3 244.4h.01M300.4 242.3h.01M300.4 291.4h.01M300.5 232.3h.01M300.5 302.5h.01M300.5 246.9h.01M300.7 277.3h.01M300.8 233.3h.01M300.8 240.3h.01M300.9 265.5h.01M301 271.6h.01M301.1 275h.01M301.1 302.6h.01M301.2 263.6h.01M301.3 278.5h.01M301.3 239h.01M301.4 300.7h.01M301.5 281.1h.01M301.5 297.8h.01M301.6 276.4h.01M301.6 242.2h.01M301.6 266.7h.01M301.7 227.2h.01M301.8 285.5h.01M301.9 277h.01M301.9 258.1h.01M302 242.2h.01M302 270.8h.01M302.1 296h.01M302.1 277.6h.01M302.2 246.7h.01M302.2 276.1h.01M302.2 287h.01M302.2 264.4h.01M302.3 257.2h.01M302.5 298h.01M302.5 293.4h.01M302.6 260.9h.01M302.6 277.6h.01M302.6 285.2h.01M302.7 258.2h.01M302.7 284.4h.01M302.8 234.8h.01M302.8 293.8h.01M302.9 248.4h.01M302.9 298.9h.01M302.9 241.7h.01M302.9 294.8h.01M303 250.6h.01M303 277.4h.01M303.2 263.4h.01M303.2 299h.01M303.3 265.3h.01M303.3 266.6h.01M303.3 260.6h.01M303.3 258.7h.01M303.5 240.9h.01M303.6 296.6h.01M303.8 277.1h.01M303.8 279.9h.01M303.8 266.5h.01M303.8 260.1h.01M303.8 282.1h.01M303.9 305.9h.01M304.3 256.3h.01M304.3 294.2h.01M304.4 256.9h.01M304.7 309.1h.01M304.7 274.9h.01M304.8 267.6h.01M304.9 274.9h.01M304.9 287.9h.01M304.9 328.2h.01M305 288.6h.01M305 267.3h.01M305 289.2h.01M305.1 289.2h.01M305.1 265.6h.01M305.1 268h.01M305.2 267.7h.01M305.4 314.3h.01M305.6 278.3h.01M305.8 280.5h.01M305.8 300.3h.01M305.9 298.1h.01M305.9 270.5h.01M306 264.9h.01M306 334.2h.01M306.1 303.1h.01M306.1 278.7h.01M306.1 298.3h.01M306.2 267.6h.01M306.2 304.9h.01M306.3 337.6h.01M306.6 322.2h.01M306.6 308.6h.01M306.7 310.8h.01M306.9 315.6h.01M307 272.9h.01M307.1 322.4h.01M307.2 335.4h.01M307.2 301h.01M307.3 294.2h.01M307.4 288.6h.01M307.4 272.4h.01M307.5 306.3h.01M307.5 321.6h.01M307.6 316.8h.01M307.6 273.9h.01M307.6 293.8h.01M307.8 314.8h.01M308 313.6h.01M308 300.4h.01M308.2 337.2h.01M308.2 334.9h.01M308.2 268.1h.01M308.3 319.4h.01M308.3 270.1h.01M308.3 295.9h.01M308.3 341.9h.01M308.3 306.4h.01M308.3 294.8h.01M308.4 292.9h.01M308.4 300.6h.01M308.4 322h.01M308.5 268.3h.01M308.5 297.8h.01M308.5 322h.01M308.6 289.7h.01M308.6 327.8h.01M308.6 286.6h.01M308.7 320.9h.01M308.7 289.4h.01M308.8 272.6h.01M308.9 319h.01M309 281.4h.01M309 325.6h.01M309.1 331.6h.01M309.1 344h.01M309.2 327h.01M309.2 324.5h.01M309.2 295.1h.01M309.3 320.8h.01M309.4 320.5h.01M309.4 282.7h.01M309.4 274.8h.01M309.5 308.6h.01M309.7 310.7h.01M309.7 335.6h.01M309.8 332.8h.01M309.8 332.2h.01M309.9 337.7h.01M309.9 324.9h.01M310 276.4h.01M310 272.3h.01M310 293.3h.01M310.1 277.7h.01M310.1 315.4h.01M310.2 340.7h.01M310.2 304.2h.01M310.4 274.8h.01M310.4 293.9h.01M310.4 323.2h.01M310.5 307h.01M310.6 280.1h.01M310.6 319.9h.01M310.6 318.8h.01M310.6 340.4h.01M310.7 295.6h.01M310.9 330.7h.01M310.9 275.8h.01M311.1 275h.01M311.2 271.8h.01M311.3 293.6h.01M311.3 286.1h.01M311.3 304.6h.01M311.5 323.2h.01M311.7 329h.01M311.7 273.6h.01M312 319.6h.01M312 289.1h.01M312.2 280.8h.01M312.3 314.9h.01M312.5 282.5h.01M312.5 286.3h.01M312.7 304.8h.01M312.8 298.9h.01M312.8 287.5h.01M312.8 295.4h.01M313.2 306.2h.01M313.5 271.1h.01M313.5 270.5h.01M313.5 336.7h.01M313.5 303.3h.01M313.6 271.4h.01M313.8 263.1h.01M313.9 312.7h.01M313.9 270.7h.01M314.1 325.7h.01M314.2 309.8h.01M314.4 331.4h.01M314.5 278.4h.01M314.6 258.8h.01M314.6 280.4h.01M315.3 270.3h.01M315.4 280.6h.01M315.6 292.9h.01M315.6 294.3h.01M315.7 274.4h.01M315.8 319.9h.01M315.8 254.9h.01M315.9 267.7h.01M316.1 315.2h.01M316.3 268.9h.01M316.6 267.9h.01M316.7 293.9h.01M316.7 243h.01M316.7 298.1h.01M316.8 307.7h.01M316.8 239.2h.01M317 244.1h.01M317 280.7h.01M317 253.6h.01M317.1 235.4h.01M317.1 291.8h.01M317.2 268h.01M317.2 297h.01M317.2 262.5h.01M317.4 305.7h.01M317.4 252.8h.01M317.5 248.1h.01M317.5 244.1h.01M317.6 289.3h.01M317.7 238.8h.01M317.7 284.9h.01M317.8 255h.01M317.8 267.4h.01M317.9 306.9h.01M318 267.8h.01M318 239.1h.01M318.2 253.6h.01M318.5 266.7h.01M318.7 238.8h.01M318.7 301.4h.01M319 240.7h.01M319.3 228h.01M319.4 253.3h.01M319.4 304.8h.01M319.5 284.9h.01M319.5 251.7h.01M319.7 278.1h.01M319.8 288.3h.01M319.8 299.5h.01M319.8 251.6h.01M319.8 239.3h.01M319.9 294.1h.01M319.9 300.8h.01M319.9 253h.01M320 236h.01M320 275h.01M320 293.2h.01M320 272.5h.01M320 296.1h.01M320 301.2h.01M320.1 271.2h.01M320.1 284h.01M320.1 277.4h.01M320.2 276.8h.01M320.2 241.9h.01M320.2 270.8h.01M320.3 264.7h.01M320.3 272.3h.01M320.3 272h.01M320.3 277.5h.01M320.3 294.2h.01M320.3 280.4h.01M320.3 247.7h.01M320.4 270.7h.01M320.4 252.6h.01M320.6 251.9h.01M320.6 260.2h.01M320.6 255.3h.01M320.7 286.6h.01M320.7 261.8h.01M320.8 242.5h.01M320.8 286.5h.01M320.8 268.8h.01M320.8 302.2h.01M321 259.4h.01M321 285.1h.01M321.1 294.9h.01M321.1 241.1h.01M321.2 293.3h.01M321.3 299.1h.01M321.4 270.9h.01M321.4 242.5h.01M321.5 280.6h.01M321.5 239.5h.01M321.6 270.9h.01M321.7 299.5h.01M321.8 292.6h.01M321.8 234.1h.01M322 247.7h.01M322.1 257.7h.01M322.3 259h.01M322.3 242.2h.01M322.4 295.7h.01M322.6 241.2h.01M322.7 292.8h.01M322.7 292.3h.01M322.7 292.5h.01M322.8 231.9h.01M322.9 243.7h.01M322.9 244.1h.01M322.9 287.6h.01M322.9 249.8h.01M322.9 237.9h.01M323 231.5h.01M323.1 294.3h.01M323.1 279.7h.01M323.1 304.1h.01M323.2 231.5h.01M323.2 306.5h.01M323.4 229.1h.01M323.4 226.3h.01M323.4 264.9h.01M323.5 267.4h.01M323.6 265.9h.01M323.6 235.1h.01M323.6 236.1h.01M323.7 269.9h.01M323.9 248.2h.01M323.9 241h.01M323.9 246.9h.01M324 287.2h.01M324 277.7h.01M324.1 286.6h.01M324.1 249.8h.01M324.2 247.6h.01M324.2 266.7h.01M324.3 228.5h.01M324.4 226.9h.01M324.6 275.7h.01M324.7 246.4h.01M324.8 258.5h.01M325.1 247.9h.01M325.3 234.8h.01M325.3 281.5h.01M325.3 270.9h.01M325.5 258.8h.01M325.6 270.7h.01M325.6 280.3h.01M325.9 274.5h.01M325.9 274.7h.01M325.9 299h.01M326 276.5h.01M326 297.9h.01M326.2 226.7h.01M326.2 229.6h.01M326.3 251.5h.01M326.4 235h.01M326.5 276.4h.01M326.5 257.7h.01M326.5 267h.01M326.6 254.8h.01M326.7 279.3h.01M326.7 307.5h.01M326.7 276.9h.01M326.8 235.3h.01M326.8 261.5h.01M326.8 250.7h.01M326.9 254.7h.01M326.9 305.6h.01M326.9 252.5h.01M327.1 263.3h.01M327.2 291.6h.01M327.2 257.8h.01M327.2 243.5h.01M327.3 264.3h.01M327.3 260.4h.01M327.4 305.7h.01M327.5 274.1h.01M327.5 256.8h.01M327.5 258.7h.01M327.6 262.4h.01M327.6 275.3h.01M327.8 306.8h.01M327.9 258.8h.01M328.1 272.7h.01M328.4 253.8h.01M328.5 315.7h.01M328.5 292.7h.01M328.5 257.6h.01M328.6 255.2h.01M328.7 324h.01M328.7 310h.01M328.8 272h.01M328.8 311.7h.01M328.8 272.1h.01M328.9 273.9h.01M328.9 277h.01M328.9 282.8h.01M329.1 293.9h.01M329.2 263.8h.01M329.3 297.5h.01M329.3 257.7h.01M329.4 255.4h.01M329.4 313.4h.01M329.4 295.9h.01M329.4 275.3h.01M329.6 304.1h.01M329.6 262.2h.01M329.6 260.7h.01M329.7 276.3h.01M329.7 282.9h.01M329.7 307h.01M329.7 306.9h.01M329.8 301.1h.01M329.9 262.4h.01M330 306.4h.01M330 297h.01M330.2 276.4h.01M330.2 311h.01M330.4 255.1h.01M330.4 315.3h.01M330.6 303.7h.01M330.6 290.2h.01M330.7 288h.01M330.7 268.9h.01M330.9 310.8h.01M331.1 312.3h.01M331.1 286.8h.01M331.1 278.7h.01M331.2 281h.01M331.2 237.3h.01M331.2 239.1h.01M331.3 283.2h.01M331.3 297h.01M331.3 283.5h.01M331.4 281.5h.01M331.7 240.3h.01M331.8 292.5h.01M331.9 265.4h.01M332 282.1h.01M332 267.7h.01M332 277.4h.01M332 296.9h.01M332.1 280.2h.01M332.1 292.7h.01M332.1 238h.01M332.2 320.1h.01M332.3 300.4h.01M332.3 296.8h.01M332.3 273h.01M332.4 311.2h.01M332.5 295.7h.01M332.6 238.7h.01M332.6 265.6h.01M332.6 265.7h.01M332.7 272.2h.01M332.7 237.7h.01M332.8 252.7h.01M332.8 275.3h.01M332.9 252.6h.01M332.9 318.7h.01M332.9 270.8h.01M332.9 285.1h.01M333 278.8h.01M333 284.7h.01M333.1 292.7h.01M333.2 306.4h.01M333.2 284.7h.01M333.2 327.4h.01M333.2 287h.01M333.2 278.2h.01M333.3 289.5h.01M333.3 276.9h.01M333.4 325h.01M333.5 291.9h.01M333.5 305.3h.01M333.5 316.4h.01M333.6 308.5h.01M333.7 273.1h.01M333.8 292.1h.01M333.9 282.8h.01M333.9 305.5h.01M333.9 300.7h.01M333.9 312.5h.01M334 275.9h.01M334 294.5h.01M334 305.1h.01M334.1 307.5h.01M334.1 305h.01M334.1 301.8h.01M334.2 251.2h.01M334.3 288h.01M334.3 287.9h.01M334.4 282.7h.01M334.5 293.1h.01M334.6 319.7h.01M334.7 293.7h.01M334.7 295h.01M334.8 237.9h.01M334.8 303.7h.01M335 312h.01M335.1 274.8h.01M335.1 308.3h.01M335.2 279h.01M335.3 319.4h.01M335.4 251.4h.01M335.4 240.9h.01M335.4 281.2h.01M335.4 302.2h.01M335.5 316.6h.01M335.5 318.2h.01M335.6 295.2h.01M335.7 266h.01M335.8 249.7h.01M335.8 292.3h.01M336.2 310.6h.01M336.3 318.8h.01M336.4 274.9h.01M336.4 317h.01M336.5 278.6h.01M336.5 306.9h.01M336.7 316.3h.01M336.8 283.4h.01M336.9 304.6h.01M336.9 280.2h.01M336.9 309h.01M336.9 283h.01M337 322.9h.01M337.1 261h.01M337.3 313.5h.01M337.3 253.7h.01M337.3 253.1h.01M337.3 252h.01M337.4 297h.01M337.4 313.7h.01M337.5 306.7h.01M337.5 257.9h.01M337.5 274.9h.01M337.6 321.7h.01M337.7 274.4h.01M337.8 298.6h.01M337.8 251.8h.01M337.8 249h.01M337.8 305.4h.01M337.9 257.3h.01M337.9 275h.01M337.9 311.3h.01M338 260.3h.01M338 252h.01M338 272.5h.01M338 248.9h.01M338 313.3h.01M338 279.1h.01M338.2 255.8h.01M338.2 252.4h.01M338.2 232.1h.01M338.2 312.6h.01M338.3 251.4h.01M338.4 261.3h.01M338.4 235.2h.01M338.4 306.7h.01M338.5 285.2h.01M338.5 283h.01M338.5 275.3h.01M338.6 251.8h.01M338.6 306.9h.01M338.8 288.3h.01M338.8 275.6h.01M338.9 282.4h.01M338.9 287.3h.01M339 309.2h.01M339 232.1h.01M339 237.9h.01M339.2 306.8h.01M339.3 273.9h.01M339.3 279.8h.01M339.5 261.4h.01M339.5 263.4h.01M339.5 267.8h.01M339.5 286.7h.01M339.5 245.1h.01M339.6 258.8h.01M339.6 281.4h.01M339.6 245.3h.01M339.7 268.7h.01M339.7 236.1h.01M339.8 236.5h.01M339.8 294.7h.01M339.9 283h.01M340 263.1h.01M340.1 277h.01M340.2 270.9h.01M340.2 289.9h.01M340.2 255.8h.01M340.2 261.9h.01M340.3 267.7h.01M340.4 292.6h.01M340.4 274.6h.01M340.5 281.1h.01M340.6 262h.01M340.7 299h.01M340.9 256.6h.01M341 295.5h.01M341 263.4h.01M341 290.5h.01M341 307.9h.01M341 254.1h.01M341 256.8h.01M341.1 246.3h.01M341.1 305.8h.01M341.2 297.5h.01M341.2 246.8h.01M341.3 290h.01M341.3 288h.01M341.3 243.6h.01M341.7 309.5h.01M341.9 251.1h.01M342 307.4h.01M342.1 271.2h.01M342.2 256.3h.01M342.2 294.7h.01M342.2 232.5h.01M342.3 244h.01M342.4 249.5h.01M342.5 308.4h.01M342.5 252.2h.01M342.5 306.2h.01M342.6 295.2h.01M342.7 307.7h.01M342.7 278.2h.01M342.8 298.2h.01M342.9 240.2h.01M343 306.2h.01M343.2 259.8h.01M343.2 299h.01M343.2 293.4h.01M343.2 298.7h.01M343.4 240.6h.01M343.4 306.3h.01M343.4 295.8h.01M343.4 260.3h.01M343.6 309.5h.01M343.7 307.5h.01M343.8 276.3h.01M343.8 306.7h.01M343.8 244.5h.01M343.9 296.3h.01M343.9 253.7h.01M344 284.5h.01M344.1 304.8h.01M344.2 261h.01M344.2 253.9h.01M344.3 244.5h.01M344.5 255.7h.01M344.6 234h.01M344.7 244.5h.01M344.8 299.1h.01M344.9 305.4h.01M345 303.5h.01M345 257.7h.01M345.1 289.9h.01M345.1 252.4h.01M345.2 259.9h.01M345.3 246.5h.01M345.5 288.1h.01M345.7 278.3h.01M345.7 251.3h.01M345.7 261.1h.01M345.8 278.7h.01M345.9 267.8h.01M346.1 269.6h.01M346.1 281.7h.01M346.3 281h.01M346.6 295.9h.01M346.9 230.2h.01M347 250.5h.01M347 248.8h.01M347.2 247.1h.01M347.2 298h.01M347.3 294.2h.01M347.4 299.5h.01M347.6 299.9h.01M347.8 294.5h.01M347.9 235.7h.01M348 298.5h.01M348 264.8h.01M348.1 299.8h.01M348.1 234.9h.01M348.2 296.9h.01M348.2 249.7h.01M348.3 254.8h.01M348.4 241.1h.01M348.4 239.8h.01M348.4 264.7h.01M348.4 249.8h.01M348.5 248.2h.01M348.5 239.7h.01M348.5 288.3h.01M348.6 299.9h.01M348.6 233.9h.01M348.7 307.7h.01M348.8 234.9h.01M348.8 310.2h.01M348.9 246.3h.01M349 236.4h.01M349 273.5h.01M349.2 249.8h.01M349.2 305.8h.01M349.2 237.5h.01M349.2 253h.01M349.3 316.6h.01M349.3 295.8h.01M349.3 272.7h.01M349.5 239.5h.01M349.7 266h.01M349.9 320.8h.01M349.9 287.9h.01M350 256h.01M350 244h.01M350.1 243.7h.01M350.2 297.6h.01M350.3 265.7h.01M350.3 284.7h.01M350.3 288.6h.01M350.4 304.8h.01M350.4 320.9h.01M350.6 265.1h.01M350.7 255h.01M350.8 298.1h.01M350.8 278.3h.01M350.8 273.4h.01M350.8 261.4h.01M350.9 257.3h.01M351 273h.01M351 289.9h.01M351.3 248.1h.01M351.3 297h.01M351.3 256.7h.01M351.5 250.3h.01M351.5 266.7h.01M351.6 246.8h.01M351.7 279.2h.01M351.8 287h.01M351.8 276.9h.01M351.9 276.8h.01M352 251.9h.01M352 313.2h.01M352 253.5h.01M352 243h.01M352.1 285.7h.01M352.1 274.7h.01M352.1 258.4h.01M352.1 253.1h.01M352.2 273h.01M352.2 325.1h.01M352.3 260.5h.01M352.4 253h.01M352.4 285.4h.01M352.5 259.2h.01M352.5 280.6h.01M352.5 244.7h.01M352.6 295.5h.01M352.8 322.9h.01M352.9 247.3h.01M353 294.5h.01M353.1 304h.01M353.3 295.3h.01M353.3 251.9h.01M353.5 295h.01M353.6 309.9h.01M353.7 259.3h.01M353.7 244.6h.01M353.8 260.8h.01M353.8 323h.01M353.9 277.9h.01M353.9 309.7h.01M354 317.3h.01M354 255.9h.01M354 323.8h.01M354.1 324.9h.01M354.2 263.8h.01M354.2 285.4h.01M354.3 289.8h.01M354.4 283.9h.01M354.5 302.1h.01M354.5 317.6h.01M354.7 286.4h.01M354.8 262.9h.01M354.8 252.1h.01M354.9 282.6h.01M354.9 259.8h.01M354.9 308.4h.01M354.9 258.6h.01M355 281.9h.01M355.1 309.1h.01M355.1 256h.01M355.1 261.4h.01M355.1 302.5h.01M355.1 260.7h.01M355.2 301.5h.01M355.3 249.1h.01M355.3 259.6h.01M355.3 291.8h.01M355.3 311.3h.01M355.4 312h.01M355.4 305.7h.01M355.5 285.6h.01M355.5 257.6h.01M355.6 255.9h.01M355.6 280.8h.01M355.6 257.6h.01M355.7 308.5h.01M355.7 310h.01M355.7 289.7h.01M355.8 288.8h.01M355.8 251.7h.01M355.9 299.8h.01M356 240.8h.01M356 271.8h.01M356 243.5h.01M356.1 304.5h.01M356.2 306.7h.01M356.2 310.2h.01M356.2 285.4h.01M356.4 247.7h.01M356.4 264.5h.01M356.5 278.9h.01M356.6 265.5h.01M356.6 291.8h.01M356.7 304h.01M356.7 252.5h.01M356.7 290h.01M356.8 252.2h.01M356.9 228.2h.01M356.9 299.3h.01M357 277.6h.01M357.1 284.6h.01M357.3 223.1h.01M357.4 257.3h.01M357.6 300h.01M357.6 255.8h.01M357.6 303.9h.01M357.7 284.8h.01M357.7 237.5h.01M357.8 299.9h.01M357.9 257.7h.01M357.9 258.7h.01M357.9 266.4h.01M358 277.4h.01M358 275.7h.01M358 239.4h.01M358 290.6h.01M358 239.3h.01M358.2 266.9h.01M358.2 295.3h.01M358.3 313.1h.01M358.4 300h.01M358.6 238.5h.01M358.6 213.9h.01M358.9 276.2h.01M359 291.3h.01M359.1 241h.01M359.1 263h.01M359.1 312.6h.01M359.1 285.5h.01M359.1 238.4h.01M359.1 288.3h.01M359.2 239.3h.01M359.3 246.9h.01M359.4 232.2h.01M359.4 266.3h.01M359.4 265.5h.01M359.4 262.9h.01M359.4 237.1h.01M359.4 247.8h.01M359.5 213.2h.01M359.5 291.3h.01M359.6 239.8h.01M359.7 256.2h.01M359.7 288.7h.01M359.8 237.9h.01M359.8 244.2h.01M359.8 280.4h.01M359.8 246.4h.01M359.9 216.2h.01M359.9 281.5h.01M360 216.9h.01M360.2 271.9h.01M360.2 236.3h.01M360.2 308.6h.01M360.2 271h.01M360.3 244.8h.01M360.3 233.8h.01M360.3 230.5h.01M360.3 260.9h.01M360.4 251.4h.01M360.4 256.1h.01M360.4 245.6h.01M360.6 234h.01M360.7 226.1h.01M360.7 232.9h.01M360.7 239.1h.01M360.7 309.9h.01M360.7 280.9h.01M360.8 250h.01M360.9 251.7h.01M360.9 300.1h.01M360.9 287.3h.01M360.9 261.7h.01M360.9 240.8h.01M360.9 274.5h.01M361 220.8h.01M361.2 216.5h.01M361.3 248.6h.01M361.3 254.5h.01M361.5 286.3h.01M361.6 252.7h.01M361.6 277.4h.01M361.6 215.1h.01M361.7 307.6h.01M361.7 308.3h.01M361.8 239.4h.01M361.8 253.1h.01M361.8 282.3h.01M361.8 258.2h.01M361.8 309.2h.01M361.8 272.5h.01M361.9 304.5h.01M362 273.9h.01M362 216.1h.01M362.1 245h.01M362.1 217.9h.01M362.2 271.7h.01M362.3 226.8h.01M362.3 239.4h.01M362.4 216.5h.01M362.4 276.3h.01M362.4 274.5h.01M362.4 223.1h.01M362.4 260.5h.01M362.5 276.5h.01M362.6 279.9h.01M362.6 215.1h.01M362.7 228h.01M362.7 306.7h.01M362.8 217h.01M362.8 239.2h.01M362.8 244.3h.01M362.8 279.2h.01M362.9 226.6h.01M362.9 238.8h.01M363 252.5h.01M363 313.7h.01M363 227.1h.01M363.1 221.3h.01M363.1 241.5h.01M363.1 237.4h.01M363.2 271.4h.01M363.2 222h.01M363.3 305.5h.01M363.3 258.7h.01M363.3 279h.01M363.3 249.6h.01M363.4 250.5h.01M363.6 222.4h.01M363.7 268.9h.01M363.8 297.8h.01M363.9 253.2h.01M363.9 258.4h.01M364 284h.01M364 290.6h.01M364.1 230.2h.01M364.1 259.6h.01M364.1 242.9h.01M364.2 255h.01M364.2 268.2h.01M364.3 263.2h.01M364.4 291.7h.01M364.5 256.3h.01M364.6 282.7h.01M364.6 280.6h.01M364.6 242h.01M364.6 266.4h.01M364.7 229.1h.01M364.7 291.2h.01M364.7 241.5h.01M364.8 241.8h.01M364.8 296.1h.01M364.8 241.5h.01M364.8 228h.01M364.9 288.1h.01M365 305.7h.01M365 305.4h.01M365.1 293.4h.01M365.1 232.5h.01M365.1 232.4h.01M365.1 304.8h.01M365.2 261.4h.01M365.3 304.5h.01M365.3 298.4h.01M365.6 266h.01M365.7 301.7h.01M365.8 290h.01M365.9 281.9h.01M366.1 314.7h.01M366.1 231.9h.01M366.1 269.1h.01M366.2 306.8h.01M366.3 236.1h.01M366.5 316.4h.01M366.5 291.7h.01M366.6 235.4h.01M366.6 306.7h.01M366.7 261.4h.01M366.7 240.8h.01M366.7 303.1h.01M366.8 241.3h.01M366.8 291h.01M366.9 286.7h.01M366.9 234.5h.01M366.9 261.6h.01M366.9 318.3h.01M367 299.6h.01M367.1 241.1h.01M367.2 304.8h.01M367.3 271.9h.01M367.3 318.5h.01M367.4 274.4h.01M367.4 274.8h.01M367.6 269.2h.01M367.7 254h.01M367.7 290.5h.01M367.7 243.6h.01M367.7 301.4h.01M367.8 256.2h.01M367.8 286.8h.01M367.9 308.5h.01M367.9 281.9h.01M368 311.2h.01M368 272.2h.01M368.1 318.4h.01M368.1 279.6h.01M368.1 286.6h.01M368.2 295.5h.01M368.3 305.3h.01M368.3 303.9h.01M368.3 256.7h.01M368.4 248.8h.01M368.4 311.2h.01M368.4 248.7h.01M368.5 275.8h.01M368.5 309.6h.01M368.6 287h.01M368.7 312.1h.01M368.7 292.4h.01M368.8 302.5h.01M368.8 312.3h.01M368.8 282.6h.01M368.9 267.7h.01M368.9 243.7h.01M368.9 258.3h.01M369.1 259.2h.01M369.1 289.4h.01M369.1 307.6h.01M369.2 304.5h.01M369.2 275.5h.01M369.2 277.5h.01M369.2 303.9h.01M369.3 255h.01M369.3 238.4h.01M369.3 315.2h.01M369.3 258.1h.01M369.3 296.6h.01M369.3 277.9h.01M369.3 238.6h.01M369.4 237.2h.01M369.5 266.6h.01M369.6 308.4h.01M369.8 313.9h.01M369.9 258h.01M369.9 285h.01M370 238.2h.01M370 246.1h.01M370 277.3h.01M370.1 283.8h.01M370.1 302.8h.01M370.2 299h.01M370.3 301.9h.01M370.3 249h.01M370.4 303.4h.01M370.4 248.4h.01M370.4 278.9h.01M370.5 246h.01M370.7 262h.01M371.2 305.5h.01M371.2 234.6h.01M371.3 278.5h.01M371.3 298.8h.01M371.5 277.9h.01M371.6 304.9h.01M372.1 289.4h.01M372.1 234.3h.01M372.3 279.1h.01M372.3 304.9h.01M372.5 291.3h.01M372.5 298.8h.01M372.7 284.5h.01M372.7 294.6h.01M372.8 272.1h.01M372.9 294.6h.01M372.9 286.1h.01M373 311.1h.01M373 285.9h.01M373.1 292.8h.01M373.1 302.4h.01M373.1 306.3h.01M373.3 305.2h.01M373.5 307.3h.01M373.6 266.4h.01M373.6 318.1h.01M373.7 302.7h.01M373.9 267.1h.01M374 292.2h.01M374 282.5h.01M374.5 250.7h.01M374.6 286.4h.01M374.8 279h.01M374.8 319h.01M374.8 284.8h.01M375.2 268.5h.01M375.3 280h.01M375.3 280.7h.01M375.5 267.9h.01M375.6 281.8h.01M376 285.7h.01M376.1 311.9h.01M376.1 232.8h.01M376.1 303.9h.01M376.1 287.2h.01M376.1 307.7h.01M376.3 303.1h.01M376.4 292.3h.01M376.5 283h.01M376.5 315.3h.01M376.5 297.2h.01M376.7 263.2h.01M376.7 310.8h.01M376.7 300.1h.01M376.8 263.7h.01M376.9 294.8h.01M376.9 263.7h.01M377 248.2h.01M377 302.6h.01M377.1 282.3h.01M377.1 301h.01M377.2 316.3h.01M377.3 239.5h.01M377.5 264.1h.01M377.6 311.1h.01M377.6 310.5h.01M377.7 307.4h.01M377.7 233.6h.01M377.7 231.1h.01M377.7 269.5h.01M377.8 246h.01M377.8 253.4h.01M377.9 262h.01M377.9 315.4h.01M377.9 261.2h.01M378 274.7h.01M378.1 258.8h.01M378.2 299.4h.01M378.3 274.5h.01M378.4 248.9h.01M378.5 273.3h.01M378.5 265.7h.01M378.5 309.2h.01M378.6 249.6h.01M378.8 271.1h.01M379 229h.01M379.4 293h.01M379.5 299.6h.01M379.6 294.9h.01M379.6 290.6h.01M379.7 234.9h.01M379.7 304.6h.01M379.7 282.6h.01M380 259.8h.01M380 296.9h.01M380.1 244.4h.01M380.1 264.9h.01M380.3 261.7h.01M380.3 235.9h.01M380.5 280.8h.01M380.6 239h.01M380.7 264.4h.01M380.7 296.9h.01M380.9 288.6h.01M380.9 302.7h.01M381 227.6h.01M381 239.2h.01M381.2 272.2h.01M381.3 227.3h.01M381.3 243.2h.01M381.3 299.3h.01M381.4 299.9h.01M381.5 251.6h.01M381.5 245.4h.01M381.7 227.9h.01M381.8 241.6h.01M381.8 227h.01M381.8 243h.01M381.8 284.7h.01M381.9 290.5h.01M382 233.2h.01M382.1 267.6h.01M382.1 265.9h.01M382.1 276.9h.01M382.2 267.6h.01M382.2 227.3h.01M382.3 252.1h.01M382.3 274.4h.01M382.3 272.7h.01M382.4 198.5h.01M382.4 256.9h.01M382.5 220.5h.01M382.6 223.2h.01M382.7 197.1h.01M382.7 212.2h.01M382.7 264.4h.01M382.8 178.9h.01M382.9 274.2h.01M382.9 268.3h.01M382.9 205.4h.01M383 227.1h.01M383 275.8h.01M383.1 234.1h.01M383.1 227.4h.01M383.2 275.5h.01M383.2 201.5h.01M383.2 198.1h.01M383.4 267.9h.01M383.4 257.9h.01M383.4 270h.01M383.5 192.1h.01M383.5 172.6h.01M383.6 194.4h.01M383.6 170.1h.01M383.7 261.7h.01M383.7 212h.01M383.8 190h.01M383.8 168.7h.01M383.8 262.6h.01M383.9 157.5h.01M383.9 227.2h.01M383.9 247h.01M383.9 255.2h.01M384 240.7h.01M384.1 211.4h.01M384.2 202.7h.01M384.2 159.3h.01M384.2 210.2h.01M384.4 194.8h.01M384.6 140.5h.01M384.6 172.1h.01M384.7 184h.01M384.7 184.8h.01M384.8 189.2h.01M384.8 143.3h.01M385.2 192.7h.01M385.2 185.9h.01M385.3 149.9h.01M385.3 217.4h.01M385.3 214.2h.01M385.4 182.7h.01M385.6 202.6h.01M385.6 170.4h.01M385.7 183.8h.01M385.8 162.4h.01M385.9 183.6h.01M385.9 160.5h.01M385.9 164h.01M385.9 183.5h.01M386 197.2h.01M386 191.9h.01M386 177.9h.01M386.2 168.1h.01M386.2 169.3h.01M386.3 199.1h.01M386.4 185.3h.01M386.4 167.8h.01M386.5 161.4h.01M386.5 164.3h.01M386.9 162.5h.01M386.9 152.8h.01M386.9 176.3h.01M387.1 149h.01M387.1 200.9h.01M387.8 129.4h.01M387.9 136.6h.01M387.9 147.7h.01M388.3 179.7h.01M388.3 179.3h.01M388.4 147.4h.01M388.4 199.8h.01M388.5 153.4h.01M388.6 150.6h.01M388.7 199.6h.01M388.8 151.8h.01M388.9 142.9h.01M389.1 133.3h.01M389.1 219.4h.01M389.2 227.3h.01M389.3 141.2h.01M389.4 184.8h.01M389.5 211.9h.01M389.5 204.4h.01M389.6 196.8h.01M389.6 181.7h.01M389.7 204.4h.01M389.7 158h.01M389.7 210.1h.01M389.8 183.6h.01M389.9 206.8h.01M390 163.6h.01M390.1 235.1h.01M390.2 204.9h.01M390.2 182.5h.01M390.2 198.7h.01M390.2 207.3h.01M390.3 158.7h.01M390.5 233.6h.01M390.6 191.1h.01M390.6 211.3h.01M390.6 193.7h.01M390.6 162.9h.01M390.8 161.8h.01M390.9 184.7h.01M390.9 163.3h.01M390.9 233.2h.01M390.9 162.2h.01M391 233.9h.01M391 192.7h.01M391 174.8h.01M391 185.1h.01M391.1 207.2h.01M391.1 202.1h.01M391.1 190.7h.01M391.1 195.1h.01M391.2 192.7h.01M391.2 159.1h.01M391.4 205.4h.01M391.4 193.7h.01M391.5 199.6h.01M391.5 198.6h.01M391.6 184.7h.01M391.7 207.1h.01M391.8 205.1h.01M391.8 163.9h.01M391.9 192.8h.01M391.9 235.4h.01M391.9 250.1h.01M391.9 183.3h.01M392 207.1h.01M392.1 225.8h.01M392.1 195.4h.01M392.1 170.7h.01M392.2 207.2h.01M392.3 233.9h.01M392.3 159.4h.01M392.3 223.4h.01M392.4 234.2h.01M392.6 169.8h.01M392.6 167.7h.01M392.6 192.9h.01M392.6 211.6h.01M392.7 232.6h.01M392.7 245.2h.01M392.7 166.3h.01M392.8 223.1h.01M392.8 212.7h.01M392.9 210.8h.01M392.9 191.8h.01M392.9 224h.01M393 192.6h.01M393.1 242.6h.01M393.1 227.5h.01M393.2 239.3h.01M393.2 165.9h.01M393.3 241.7h.01M393.3 164.7h.01M393.3 191.3h.01M393.5 245.4h.01M393.5 217.9h.01M393.5 191.7h.01M393.7 253.6h.01M393.8 238.5h.01M393.8 224.2h.01M393.9 245.8h.01M393.9 232.5h.01M394 178.3h.01M394 233.1h.01M394.2 231.5h.01M394.2 245.9h.01M394.2 254.5h.01M394.3 193.8h.01M394.3 243.6h.01M394.4 246.2h.01M394.6 179.5h.01M394.6 231.7h.01M394.7 193.7h.01M394.8 194h.01M395.1 191h.01M395.2 193.8h.01M395.2 178h.01M395.4 244h.01M395.4 192.4h.01M395.5 204.5h.01M395.5 177.9h.01M395.6 175.1h.01M395.6 191.4h.01M395.7 219.1h.01M395.7 179.7h.01M395.7 220.4h.01M395.9 247.2h.01M395.9 185.4h.01M396 179.5h.01M396.1 201.3h.01M396.2 194.9h.01M396.2 214h.01M396.2 200.9h.01M396.3 191.1h.01M396.4 226h.01M396.5 208.8h.01M396.8 233.7h.01M396.8 181.3h.01M396.8 235.5h.01M396.9 176.8h.01M397 214.6h.01M397 227.3h.01M397 242.6h.01M397 222.7h.01M397.1 228.4h.01M397.1 250.5h.01M397.2 167.6h.01M397.3 191.8h.01M397.3 181.6h.01M397.6 175h.01M397.6 228.5h.01M397.7 223.1h.01M397.8 244h.01M397.8 175h.01M397.9 229.4h.01M398 217.1h.01M398.1 239.9h.01M398.2 231.9h.01M398.3 241.7h.01M398.5 232.5h.01M398.6 188.8h.01M398.6 179.2h.01M398.8 233.2h.01M398.8 239.2h.01M398.9 246.4h.01M399.2 191.8h.01M399.2 181h.01M399.4 178.1h.01M399.5 192.8h.01M399.5 190.8h.01M399.5 190.5h.01M399.6 177h.01M399.9 173.2h.01M399.9 188h.01M400 169.1h.01M400.1 225.5h.01M400.1 202.3h.01M400.2 253.5h.01M400.3 254.7h.01M400.4 214.5h.01M400.4 203.5h.01M400.5 250.4h.01M400.5 229.6h.01M400.5 206.9h.01M400.5 183.4h.01M400.6 229.5h.01M400.7 203.8h.01M400.7 251.6h.01M400.8 210.6h.01M400.8 197.9h.01M400.9 181.6h.01M400.9 248.8h.01M400.9 226.1h.01M400.9 186.7h.01M400.9 179.8h.01M401.2 194.7h.01M401.2 176.4h.01M401.2 190.8h.01M401.3 202.8h.01M401.4 186.7h.01M401.5 220.4h.01M401.5 209.4h.01M401.6 222h.01M401.6 206.5h.01M401.7 208.5h.01M401.8 201.7h.01M401.8 201.6h.01M401.8 221.5h.01M401.9 203.1h.01M401.9 190.8h.01M401.9 203.5h.01M402.1 184h.01M402.2 236.9h.01M402.2 183h.01M402.4 182.9h.01M402.4 224.5h.01M402.8 206h.01M402.8 242.9h.01M402.8 236.4h.01M402.8 184.2h.01M402.9 242.6h.01M402.9 221.7h.01M403 224.1h.01M403.1 256.1h.01M403.1 256.5h.01M403.1 255.7h.01M403.3 271.1h.01M403.3 174h.01M403.3 234.4h.01M403.4 240h.01M403.4 245.6h.01M403.5 231.4h.01M403.5 288.5h.01M403.6 240.3h.01M403.7 260.2h.01M403.8 315.9h.01M403.9 259.1h.01M403.9 205.4h.01M404 191.1h.01M404 208h.01M404 226.6h.01M404.1 312.2h.01M404.2 287.4h.01M404.2 227.3h.01M404.2 271.2h.01M404.3 209.7h.01M404.3 257.4h.01M404.4 202.1h.01M404.4 203.8h.01M404.5 268.7h.01M404.5 202.8h.01M404.6 243.8h.01M404.6 283.5h.01M404.6 217.7h.01M404.6 255.7h.01M405 251.9h.01M405 217.2h.01M405 248.3h.01M405.1 225h.01M405.2 244.1h.01M405.3 295.1h.01M405.3 278.2h.01M405.3 257h.01M405.4 300.9h.01M405.6 221.8h.01M405.6 221.3h.01M405.8 295.4h.01M405.8 239.8h.01M405.9 223h.01M406 242h.01M406 300.9h.01M406 253h.01M406 323.8h.01M406 304.8h.01M406 261.5h.01M406.1 254h.01M406.1 292h.01M406.2 222.4h.01M406.2 251.4h.01M406.2 241.3h.01M406.3 273h.01M406.3 326.7h.01M406.3 320.8h.01M406.3 298h.01M406.4 281.2h.01M406.4 325.2h.01M406.4 306.3h.01M406.4 290.4h.01M406.4 251.8h.01M406.5 274.4h.01M406.5 257.8h.01M406.5 305.4h.01M406.6 267.7h.01M406.7 227h.01M406.7 305.7h.01M406.7 247.3h.01M406.8 326h.01M406.8 258.6h.01M406.8 261.6h.01M406.9 264.9h.01M406.9 298.6h.01M406.9 292h.01M407.2 294.1h.01M407.2 279.5h.01M407.3 257.7h.01M407.3 246.6h.01M407.4 328.8h.01M407.5 298.4h.01M407.5 228.5h.01M407.6 242.7h.01M407.6 245.1h.01M407.7 251.9h.01M407.7 238.9h.01M407.7 254.3h.01M407.7 256.8h.01M407.8 257.5h.01M407.8 232.9h.01M407.8 256.6h.01M407.9 309.4h.01M407.9 247.9h.01M408 243.1h.01M408 255.7h.01M408 327.1h.01M408.1 251.1h.01M408.2 316.4h.01M408.2 277.5h.01M408.2 296.4h.01M408.4 243.8h.01M408.5 244.3h.01M408.5 290.2h.01M408.5 251.5h.01M408.6 289.9h.01M408.6 256.9h.01M408.7 253.8h.01M408.7 278.6h.01M408.8 315h.01M408.9 295.2h.01M408.9 246.4h.01M409 281.9h.01M409 290.5h.01M409.1 291.5h.01M409.2 314.2h.01M409.2 286.4h.01M409.2 280.5h.01M409.2 285.8h.01M409.2 241.9h.01M409.3 288.6h.01M409.3 258.1h.01M409.3 284.7h.01M409.5 286.2h.01M409.5 241.3h.01M409.5 246h.01M409.6 292.4h.01M409.7 262.2h.01M409.8 316.6h.01M409.8 270.4h.01M409.9 279.9h.01M409.9 261.1h.01M409.9 279.3h.01M410 242.1h.01M410.1 306.7h.01M410.2 285.2h.01M410.2 274.6h.01M410.3 239.5h.01M410.3 287.8h.01M410.4 287.8h.01M410.4 277.4h.01M410.4 277.2h.01M410.4 261.8h.01M410.5 325.8h.01M410.6 315.3h.01M410.6 305.7h.01M410.7 250.1h.01M410.7 286.1h.01M410.8 271h.01M410.9 313.2h.01M411 298.2h.01M411 276.3h.01M411.1 279.7h.01M411.1 300.7h.01M411.1 250.5h.01M411.3 250.9h.01M411.3 298h.01M411.4 257.5h.01M411.4 289.4h.01M411.6 299.1h.01M411.6 264.7h.01M411.7 328.5h.01M411.7 246h.01M411.7 270.8h.01M411.7 325.8h.01M411.9 249.7h.01M411.9 279.4h.01M412 274h.01M412 325.2h.01M412 296.6h.01M412 288.5h.01M412.1 246.9h.01M412.2 287.1h.01M412.3 270.1h.01M412.3 269h.01M412.3 250.5h.01M412.4 263.8h.01M412.5 258.7h.01M412.5 247.1h.01M412.6 323.4h.01M412.6 309.9h.01M412.7 247.8h.01M412.7 267.6h.01M412.8 272.3h.01M412.8 287.4h.01M412.8 323.6h.01M412.8 287.6h.01M412.9 256.9h.01M412.9 298.6h.01M412.9 265.8h.01M413 266.4h.01M413.2 279.4h.01M413.3 267.7h.01M413.3 323.5h.01M413.4 321.8h.01M413.5 317.2h.01M413.5 277.9h.01M413.6 245.2h.01M413.8 246.9h.01M413.8 257.7h.01M413.9 295.6h.01M414 281h.01M414 275.3h.01M414.1 318.6h.01M414.1 282.7h.01M414.1 263.3h.01M414.1 244.4h.01M414.1 277.7h.01M414.2 329.2h.01M414.3 270.9h.01M414.4 263h.01M414.4 277.2h.01M414.4 265.1h.01M414.4 268.3h.01M414.5 285.2h.01M414.5 246.6h.01M414.5 249.3h.01M414.6 275.3h.01M414.6 244.9h.01M414.6 270.1h.01M414.7 269.6h.01M414.8 247.5h.01M414.8 315.5h.01M414.8 277.3h.01M414.9 249.5h.01M414.9 271.7h.01M415 318h.01M415 259.7h.01M415 250.1h.01M415 328.7h.01M415 247.4h.01M415.1 241.4h.01M415.1 252.6h.01M415.1 283.2h.01M415.3 294.4h.01M415.3 326.9h.01M415.5 251h.01M415.7 273h.01M415.8 304.7h.01M415.9 270.7h.01M415.9 279h.01M416 272h.01M416 258.6h.01M416 314.7h.01M416 304.4h.01M416.1 327.9h.01M416.2 259.3h.01M416.2 292.7h.01M416.3 328.3h.01M416.3 251.6h.01M416.3 326.5h.01M416.4 261.9h.01M416.6 241.8h.01M416.6 329.4h.01M416.7 291.8h.01M416.9 257.6h.01M416.9 240.5h.01M417.1 308.9h.01M417.1 314.8h.01M417.1 329.4h.01M417.2 298.5h.01M417.3 328h.01M417.4 258h.01M417.4 258.8h.01M417.5 243.6h.01M417.7 251.5h.01M417.7 328.1h.01M417.7 312.7h.01M417.7 256.8h.01M417.9 264.5h.01M417.9 323.6h.01M417.9 250h.01M417.9 328.3h.01M417.9 314.8h.01M417.9 313.8h.01M417.9 291.2h.01M418 312.1h.01M418 306.8h.01M418.1 291.8h.01M418.2 246.1h.01M418.2 327.1h.01M418.3 267.4h.01M418.4 318.8h.01M418.6 321.2h.01M418.8 304.5h.01M418.9 258.6h.01M419 302.4h.01M419.1 325h.01M419.1 255.4h.01M419.2 247.8h.01M419.3 318.7h.01M419.3 250h.01M419.3 305.1h.01M419.3 278.7h.01M419.3 319.2h.01M419.7 311h.01M419.7 278.2h.01M419.8 241.3h.01M419.9 264.1h.01M420 247.3h.01M420 246.1h.01M420 248.1h.01M420.1 279.8h.01M420.1 257.7h.01M420.3 293.5h.01M420.3 242.5h.01M420.4 284.1h.01M420.4 242h.01M420.5 280.8h.01M420.5 245.8h.01M420.5 297.7h.01M420.6 302.9h.01M420.6 278.6h.01M420.8 246.9h.01M420.8 285.8h.01M420.9 275.7h.01M420.9 313.4h.01M420.9 244h.01M421 288.2h.01M421 299h.01M421.2 244.8h.01M421.2 257.2h.01M421.4 282.9h.01M421.4 298.2h.01M421.5 262.5h.01M421.5 259.4h.01M421.6 288.2h.01M421.8 257.3h.01M422 274.4h.01M422 239.9h.01M422 280h.01M422.1 296.8h.01M422.2 281.4h.01M422.4 246.6h.01M422.5 318h.01M422.6 325.8h.01M422.7 319.5h.01M422.7 319.4h.01M422.8 318.9h.01M422.8 249.1h.01M422.8 245.6h.01M422.8 266.1h.01M422.9 267.9h.01M422.9 262.1h.01M423 315.1h.01M423.1 316.6h.01M423.1 244.1h.01M423.1 282.6h.01M423.2 296.5h.01M423.4 253h.01M423.4 283.2h.01M423.6 269.7h.01M423.7 303.6h.01M423.8 280.1h.01M423.9 258.4h.01M423.9 256.7h.01M423.9 306.1h.01M423.9 278.4h.01M424.1 296.3h.01M424.1 260.1h.01M424.2 279.8h.01M424.2 313.8h.01M424.3 317.3h.01M424.3 249.3h.01M424.3 298.6h.01M424.4 280.1h.01M424.4 240.1h.01M424.5 248.4h.01M424.5 254h.01M424.5 287.8h.01M424.6 318.8h.01M424.6 241.4h.01M424.6 306.1h.01M424.7 260.1h.01M424.8 316.8h.01M425 305.3h.01M425.1 273h.01M425.1 256h.01M425.1 275.4h.01M425.2 310.5h.01M425.2 296.6h.01M425.2 311.3h.01M425.2 283.2h.01M425.3 320.2h.01M425.3 283.8h.01M425.4 287.1h.01M425.7 231.6h.01M425.8 227.5h.01M425.9 299.1h.01M425.9 307.3h.01M425.9 279h.01M426 221.3h.01M426 314.7h.01M426 280.7h.01M426.2 236.2h.01M426.3 283.3h.01M426.4 276h.01M426.5 281.3h.01M426.5 235.9h.01M426.5 291h.01M426.6 233.4h.01M426.8 295.4h.01M426.8 243.7h.01M427 294.9h.01M427.4 231.9h.01M427.5 242.7h.01M427.6 246.9h.01M427.6 261.5h.01M427.6 281.6h.01M427.7 265.3h.01M427.8 303.4h.01M428 296.6h.01M428 222.7h.01M428 223.8h.01M428.1 237.7h.01M428.1 250.5h.01M428.1 244.8h.01M428.3 234.4h.01M428.3 247.3h.01M428.3 297.2h.01M428.3 250h.01M428.4 246.4h.01M428.5 267.7h.01M428.5 239.8h.01M428.6 239.6h.01M428.8 260h.01M428.8 235.7h.01M428.9 216.7h.01M428.9 257.2h.01M428.9 262.1h.01M429.1 257.2h.01M429.1 225.7h.01M429.1 288.2h.01M429.2 247.2h.01M429.2 272.9h.01M429.2 265.5h.01M429.3 247h.01M429.4 235.3h.01M429.5 232.8h.01M429.6 226.7h.01M429.8 228.9h.01M429.9 233h.01M429.9 262.5h.01M430 262.6h.01M430.1 277.7h.01M430.1 232.6h.01M430.2 234h.01M430.3 233.7h.01M430.8 264.4h.01M430.9 265.8h.01M431.1 264h.01M431.2 228.1h.01M431.2 230.2h.01M431.4 227h.01M431.5 227.3h.01M431.5 238.3h.01M431.6 251.3h.01M431.6 218.1h.01M431.6 217.3h.01M431.7 226.8h.01M431.7 245.1h.01M431.7 220.7h.01M431.8 220.4h.01M431.8 232.2h.01M431.8 247h.01M431.9 219.5h.01M432 220.2h.01M432 246.6h.01M432.4 264.2h.01M432.4 236.8h.01M432.6 236.8h.01M432.7 277.7h.01M433 265h.01M433 236.3h.01M433 257.9h.01M433 236.4h.01M433.2 245.9h.01M433.2 217.6h.01M433.2 255.5h.01M433.3 236.7h.01M433.5 232.1h.01M433.5 279.3h.01M433.5 225.3h.01M433.6 263.7h.01M433.6 235.6h.01M433.6 237.7h.01M433.9 224.1h.01M434.3 237h.01M434.3 230.5h.01M434.4 271.5h.01M434.7 270.9h.01M434.8 216.8h.01M435 219.5h.01M435 232.7h.01M435.8 265.5h.01M435.8 264.6h.01M435.9 233h.01M436 258h.01M436 267.2h.01M436.1 267.2h.01M436.1 258.9h.01M436.3 239.2h.01M436.5 241.2h.01M436.5 276h.01M436.6 271.6h.01M436.7 291.8h.01M436.8 255.6h.01M437 255.2h.01M437.1 266.8h.01M437.1 246.7h.01M437.2 249h.01M437.2 224.9h.01M437.2 267h.01M437.3 241.2h.01M437.3 249.1h.01M437.3 269.5h.01M437.3 274.1h.01M437.4 240.4h.01M437.4 296.5h.01M437.5 265.6h.01M437.5 282.7h.01M437.6 247.2h.01M437.7 301.6h.01M437.7 274.8h.01M437.8 280.4h.01M437.9 281.8h.01M438 304.5h.01M438 268.9h.01M438.1 275.8h.01M438.2 307.1h.01M438.2 279.8h.01M438.3 281.6h.01M438.3 311.3h.01M438.3 258.4h.01M438.4 232h.01M438.4 316.2h.01M438.4 272.6h.01M438.5 243.1h.01M438.7 244.7h.01M438.8 298.4h.01M438.8 267h.01M438.8 277h.01M438.8 267.4h.01M438.8 303h.01M438.9 236.3h.01M438.9 321.4h.01M439 300.4h.01M439.1 276h.01M439.1 300.6h.01M439.2 302.8h.01M439.2 311.9h.01M439.3 276h.01M439.3 285.5h.01M439.3 250.4h.01M439.3 274.5h.01M439.4 275.8h.01M439.6 305.7h.01M439.6 259.3h.01M439.7 301.2h.01M439.7 256.7h.01M439.7 258.4h.01M439.8 314.8h.01M439.8 262.6h.01M439.8 320.2h.01M439.9 264.9h.01M439.9 299.6h.01M439.9 258.8h.01M439.9 267.5h.01M439.9 322.7h.01M440 251.9h.01M440 300.4h.01M440.1 296.9h.01M440.2 316.2h.01M440.3 264.3h.01M440.3 278h.01M440.4 300h.01M440.4 324.9h.01M440.4 258h.01M440.5 320.7h.01M440.6 290.1h.01M440.7 316.6h.01M440.7 253.8h.01M440.7 250.3h.01M440.7 256.1h.01M440.8 288.9h.01M440.8 294.8h.01M440.9 271.5h.01M441 282.8h.01M441 323.7h.01M441 328.9h.01M441.2 300.9h.01M441.2 275.5h.01M441.3 293.4h.01M441.3 257.8h.01M441.4 267.2h.01M441.4 260.9h.01M441.5 257.5h.01M441.8 317.7h.01M442 281.8h.01M442 263h.01M442.1 249.3h.01M442.2 243.9h.01M442.2 281.8h.01M442.2 258.2h.01M442.2 280h.01M442.3 248.4h.01M442.4 322.7h.01M442.4 263.7h.01M442.4 247.6h.01M442.4 294h.01M442.4 271.1h.01M442.5 246.4h.01M442.5 297.5h.01M442.5 329.2h.01M442.5 284.5h.01M442.5 270.8h.01M442.5 316h.01M442.6 310.2h.01M442.6 280.4h.01M442.6 257.2h.01M442.7 261.1h.01M442.7 289h.01M442.8 256.5h.01M443 331.4h.01M443.1 327.7h.01M443.1 315.5h.01M443.2 309h.01M443.2 278.7h.01M443.2 259.9h.01M443.3 309.8h.01M443.3 293.9h.01M443.4 285.3h.01M443.6 259.1h.01M443.6 263.6h.01M443.6 264h.01M443.6 278.5h.01M443.7 249.8h.01M444 252.7h.01M444.4 311.5h.01M444.4 310.4h.01M444.5 309.3h.01M444.6 317.4h.01M444.7 292.8h.01M444.7 253.4h.01M444.8 293.9h.01M444.8 280.6h.01M444.9 240h.01M444.9 330.7h.01M445 247.6h.01M445 323.1h.01M445 329.2h.01M445.1 255.2h.01M445.1 304.5h.01M445.1 258.6h.01M445.2 279.9h.01M445.2 322.3h.01M445.3 258.1h.01M445.3 283.3h.01M445.4 288h.01M445.4 329.2h.01M445.4 246.9h.01M445.4 283.4h.01M445.4 314.9h.01M445.6 279.4h.01M445.6 295.8h.01M445.6 250.3h.01M445.6 292.1h.01M445.7 313.5h.01M445.7 287.1h.01M445.9 303.6h.01M445.9 294h.01M445.9 273.4h.01M445.9 233.9h.01M446 292.3h.01M446 295h.01M446 312.7h.01M446.1 235.6h.01M446.1 315.4h.01M446.2 259.9h.01M446.2 278.3h.01M446.3 221.6h.01M446.3 234.4h.01M446.4 240.8h.01M446.4 256.8h.01M446.4 230.6h.01M446.5 229.7h.01M446.5 255.2h.01M446.5 273.8h.01M446.5 296.6h.01M446.5 250.8h.01M446.6 288.9h.01M446.6 252.6h.01M446.7 308.6h.01M446.7 287h.01M446.7 243.1h.01M446.7 290h.01M446.7 279.6h.01M446.7 307.3h.01M446.8 249.7h.01M446.8 313.6h.01M446.8 243.1h.01M446.9 261.4h.01M446.9 290.3h.01M446.9 250.6h.01M447 319.2h.01M447 258.7h.01M447.1 316.1h.01M447.1 310.5h.01M447.1 269.3h.01M447.1 245.4h.01M447.2 266.7h.01M447.2 312.8h.01M447.3 286.9h.01M447.5 267.5h.01M447.5 312.2h.01M447.5 316.5h.01M447.5 280h.01M447.5 234.9h.01M447.6 233.1h.01M447.6 315.4h.01M447.7 247.7h.01M447.7 277.6h.01M447.7 268.3h.01M447.9 314.2h.01M447.9 278.8h.01M447.9 280.9h.01M447.9 227.5h.01M448 225.5h.01M448.1 301.9h.01M448.1 317.3h.01M448.2 264h.01M448.3 311.6h.01M448.4 251.7h.01M448.5 249.2h.01M448.5 247.9h.01M448.6 265.9h.01M448.6 296.8h.01M448.8 235h.01M448.8 261.2h.01M448.9 280.9h.01M449 252.4h.01M449.1 315.4h.01M449.1 241.8h.01M449.1 296.7h.01M449.2 286.8h.01M449.3 275.9h.01M449.3 278.3h.01M449.4 239.8h.01M449.4 282h.01M449.4 294.6h.01M449.5 227.4h.01M449.5 229.8h.01M449.5 308.3h.01M449.5 282.6h.01M449.6 261.4h.01M449.7 238.6h.01M449.8 286.6h.01M449.8 243.3h.01M449.9 253.3h.01M449.9 306.3h.01M449.9 242.3h.01M449.9 281.3h.01M449.9 226.8h.01M449.9 217.4h.01M450.1 272.9h.01M450.1 289.1h.01M450.1 239.8h.01M450.1 283.4h.01M450.1 243.5h.01M450.2 290.5h.01M450.2 231.9h.01M450.3 215.7h.01M450.3 227.8h.01M450.3 216.4h.01M450.4 242h.01M450.4 256.3h.01M450.4 295.1h.01M450.5 259.9h.01M450.5 271.3h.01M450.5 225.2h.01M450.5 260.1h.01M450.6 217.7h.01M450.7 288.6h.01M450.8 284.8h.01M450.9 254.6h.01M450.9 258.1h.01M450.9 261.1h.01M451 242.8h.01M451.1 261h.01M451.1 253.9h.01M451.1 258.7h.01M451.2 298.4h.01M451.2 262.1h.01M451.2 270.2h.01M451.4 247.3h.01M451.4 282.1h.01M451.4 294.6h.01M451.5 224.8h.01M451.5 231.7h.01M451.5 266.5h.01M451.6 279.4h.01M451.8 222.3h.01M451.8 291.4h.01M451.8 300h.01M451.8 253h.01M451.9 283.5h.01M451.9 300.3h.01M451.9 225.6h.01M451.9 241.5h.01M451.9 238.2h.01M452 219.2h.01M452 251.4h.01M452.1 294.5h.01M452.1 267.7h.01M452.1 277.9h.01M452.2 240.8h.01M452.2 268.6h.01M452.3 277h.01M452.3 315.9h.01M452.3 252.4h.01M452.4 267.8h.01M452.4 277.3h.01M452.4 245.6h.01M452.4 288.7h.01M452.6 232.3h.01M452.6 301.1h.01M452.6 281.8h.01M452.7 277.7h.01M452.7 220h.01M452.7 229.8h.01M452.8 294h.01M452.8 314.6h.01M452.9 250.5h.01M452.9 253.4h.01M452.9 286.5h.01M453 225.7h.01M453 277h.01M453.4 278.5h.01M453.4 304.5h.01M453.6 282.2h.01M453.6 307.7h.01M453.6 229.6h.01M453.7 277.8h.01M453.7 276.4h.01M453.7 280.4h.01M453.7 235.2h.01M453.9 273h.01M453.9 221.9h.01M453.9 275.7h.01M454 278.2h.01M454 277.2h.01M454 267.4h.01M454 219.9h.01M454.1 220.7h.01M454.2 273.4h.01M454.2 217.8h.01M454.2 229.4h.01M454.2 261.5h.01M454.2 309.9h.01M454.3 282.8h.01M454.3 285h.01M454.4 262.1h.01M454.4 300h.01M454.4 297.5h.01M454.4 310h.01M454.5 271.4h.01M454.5 233.8h.01M454.5 249.5h.01M454.6 271.9h.01M454.6 224.3h.01M454.6 261.8h.01M454.7 300.6h.01M454.8 223.7h.01M454.9 285.7h.01M454.9 220.8h.01M455 251.4h.01M455 260.2h.01M455.1 258.4h.01M455.2 252.3h.01M455.2 249.4h.01M455.2 275.2h.01M455.2 298.4h.01M455.2 251.5h.01M455.4 257.2h.01M455.5 257.9h.01M455.5 233.6h.01M455.6 233.1h.01M455.8 256.9h.01M455.8 300.9h.01M455.8 287.7h.01M455.9 231.2h.01M456.1 279.7h.01M456.1 257.6h.01M456.3 277.4h.01M456.5 249.1h.01M456.6 231.9h.01M456.6 246.6h.01M456.6 293.8h.01M456.7 250h.01M456.7 230.7h.01M456.7 303.9h.01M456.8 289.8h.01M456.8 220.8h.01M456.8 259.1h.01M456.8 223.4h.01M456.8 269.3h.01M456.9 297h.01M456.9 253.3h.01M457 229.1h.01M457 306.7h.01M457.1 298.5h.01M457.1 303.5h.01M457.1 244.5h.01M457.2 302.9h.01M457.2 286.4h.01M457.3 289.6h.01M457.3 293.8h.01M457.4 268h.01M457.4 231.1h.01M457.5 246.9h.01M457.5 246.2h.01M457.6 296.7h.01M457.6 232.9h.01M457.6 262.2h.01M457.7 304.5h.01M457.8 250.7h.01M457.9 308.6h.01M457.9 311.2h.01M457.9 248.2h.01M458 304.2h.01M458 250.5h.01M458 275h.01M458.1 290.1h.01M458.2 307.1h.01M458.2 294.4h.01M458.3 287.8h.01M458.3 307.4h.01M458.5 274h.01M458.5 245.1h.01M458.5 271.5h.01M458.5 299.1h.01M458.5 238.5h.01M458.6 220.3h.01M458.6 318.1h.01M458.7 310.7h.01M458.8 286h.01M458.8 263.3h.01M458.8 294h.01M458.9 223.2h.01M459 285.3h.01M459 308.1h.01M459.1 325.2h.01M459.3 304.4h.01M459.4 299.8h.01M459.4 293.7h.01M459.5 297.5h.01M459.5 271.2h.01M459.6 241.6h.01M459.7 306.4h.01M459.8 271.1h.01M459.8 312.8h.01M459.8 270.1h.01M459.8 314.8h.01M459.8 239.6h.01M459.8 253.9h.01M459.9 299.8h.01M460 260.4h.01M460 312.7h.01M460 317.3h.01M460 275.3h.01M460.1 261.4h.01M460.3 239h.01M460.4 271.3h.01M460.6 319.6h.01M460.6 349.9h.01M460.7 324.4h.01M460.8 311.8h.01M460.8 305.8h.01M460.8 280.9h.01M460.8 338.6h.01M460.9 313.5h.01M460.9 318.1h.01M460.9 312.5h.01M461.3 268.2h.01M461.3 291.8h.01M461.3 324.8h.01M461.4 306h.01M461.4 341.8h.01M461.5 323.7h.01M461.5 346.3h.01M461.6 330.5h.01M461.7 268.1h.01M461.7 289h.01M461.7 282.1h.01M461.7 329.3h.01M461.9 358.8h.01M461.9 308.8h.01M461.9 283.6h.01M462 330.8h.01M462.1 325.4h.01M462.2 315.8h.01M462.2 316.9h.01M462.3 305h.01M462.5 323.8h.01M462.5 303.9h.01M462.6 323.9h.01M462.7 311.7h.01M462.8 322.2h.01M462.8 309.3h.01M462.8 302.3h.01M462.9 271.5h.01M462.9 264.5h.01M462.9 330.1h.01M462.9 331.5h.01M463 282h.01M463 307.8h.01M463 309.5h.01M463.1 346.7h.01M463.3 331.5h.01M463.4 356.9h.01M463.4 359.6h.01M463.4 327.2h.01M463.5 299.5h.01M463.5 272.7h.01M463.5 319h.01M463.5 326.1h.01M463.5 266.4h.01M463.5 354.4h.01M463.6 310.8h.01M463.6 282.2h.01M463.7 313.1h.01M463.8 356.2h.01M463.8 327.1h.01M463.8 359.1h.01M463.9 283.1h.01M464 331.5h.01M464 299.3h.01M464 315.5h.01M464 299.9h.01M464.1 271.9h.01M464.2 314.5h.01M464.2 289.8h.01M464.3 289.2h.01M464.3 313.2h.01M464.3 278.1h.01M464.3 334.6h.01M464.3 303.9h.01M464.4 335.9h.01M464.4 278.8h.01M464.5 301.5h.01M464.5 334.2h.01M464.5 368.5h.01M464.5 332.1h.01M464.5 272.4h.01M464.8 300.5h.01M464.8 263.7h.01M464.8 333.6h.01M464.8 277.4h.01M464.9 311.6h.01M465 312.3h.01M465 329.2h.01M465 315.8h.01M465.2 283h.01M465.2 366h.01M465.3 311.7h.01M465.3 263.6h.01M465.3 351.7h.01M465.3 341h.01M465.4 357.5h.01M465.4 295.7h.01M465.8 365.5h.01M465.8 327.2h.01M465.9 341.1h.01M465.9 327.5h.01M465.9 332.5h.01M466 311.9h.01M466 359.9h.01M466 334.6h.01M466 354.1h.01M466 361.3h.01M466.1 359.4h.01M466.1 311.5h.01M466.1 330.3h.01M466.1 360.7h.01M466.2 283.5h.01M466.2 317.9h.01M466.2 314.7h.01M466.3 352.1h.01M466.3 340.9h.01M466.5 363.3h.01M466.6 357.9h.01M466.6 313h.01M466.6 344.8h.01M466.7 333.2h.01M466.7 350.8h.01M466.8 332.6h.01M466.9 331.5h.01M467 316.3h.01M467 345.9h.01M467 310.6h.01M467.1 345.9h.01M467.2 304.1h.01M467.2 360.6h.01M467.2 311.1h.01M467.3 282.7h.01M467.3 331.8h.01M467.3 321.6h.01M467.5 291h.01M467.6 331.5h.01M467.6 275.1h.01M467.7 323h.01M467.7 331h.01M467.7 306.4h.01M467.7 362.1h.01M467.7 293.1h.01M467.8 303.3h.01M467.9 276.4h.01M467.9 268.4h.01M468.1 265.3h.01M468.2 335.1h.01M468.2 264.3h.01M468.2 309h.01M468.3 268.1h.01M468.5 332.5h.01M468.5 363.6h.01M468.5 315.7h.01M468.5 353.1h.01M468.5 266.7h.01M468.6 350.9h.01M468.7 330.2h.01M468.7 331h.01M468.8 268.5h.01M468.8 278h.01M468.9 331.9h.01M468.9 285.8h.01M468.9 338h.01M468.9 294.2h.01M469 313.8h.01M469.1 306.5h.01M469.1 292.2h.01M469.1 290.5h.01M469.1 301.9h.01M469.2 285.7h.01M469.2 323.3h.01M469.3 357.2h.01M469.3 315.3h.01M469.5 300.7h.01M469.5 341.3h.01M469.5 299.8h.01M469.5 278.5h.01M469.5 276.6h.01M469.6 299h.01M469.6 321.4h.01M469.6 361.6h.01M469.6 333.8h.01M469.6 281h.01M469.6 264.8h.01M469.7 249.5h.01M469.7 266.8h.01M469.7 337.5h.01M469.7 356.2h.01M469.7 303.7h.01M469.7 329.7h.01M469.8 330.2h.01M469.9 302.6h.01M470 328.3h.01M470 341.4h.01M470 305.3h.01M470.1 334h.01M470.1 288.8h.01M470.2 344.7h.01M470.2 307.4h.01M470.2 302h.01M470.2 307.7h.01M470.3 319.8h.01M470.3 330.2h.01M470.4 297.1h.01M470.4 302h.01M470.4 277.9h.01M470.4 304.7h.01M470.4 256.8h.01M470.5 348.8h.01M470.5 288.5h.01M470.6 285.1h.01M470.7 257.2h.01M470.7 337.4h.01M470.8 303.1h.01M470.8 326.8h.01M470.8 343.5h.01M470.8 329.9h.01M470.9 256.5h.01M470.9 337.7h.01M471 328h.01M471 320.3h.01M471 328.4h.01M471 269.6h.01M471.1 285.4h.01M471.1 255.2h.01M471.2 273.8h.01M471.2 326.4h.01M471.2 310.7h.01M471.2 258.4h.01M471.3 298.3h.01M471.3 318.5h.01M471.4 314.7h.01M471.4 331.4h.01M471.5 274.6h.01M471.5 268.4h.01M471.5 277.4h.01M471.6 323.9h.01M471.6 319.8h.01M471.9 272.2h.01M471.9 304h.01M472.1 323.4h.01M472.2 287.9h.01M472.2 305.8h.01M472.3 283.1h.01M472.3 292.2h.01M472.4 308.7h.01M472.6 246.5h.01M472.6 298.3h.01M472.7 307.7h.01M472.7 340.8h.01M472.7 254.3h.01M472.9 343.1h.01M472.9 278.2h.01M473 304.9h.01M473 293.8h.01M473 305.4h.01M473.1 251.2h.01M473.1 305.1h.01M473.2 313.5h.01M473.3 284.5h.01M473.5 284.7h.01M473.5 263.3h.01M473.5 279.3h.01M473.5 296.7h.01M473.9 293.1h.01M502.2 293.7h.01M502.4 306.6h.01M502.5 274.1h.01M502.5 301.9h.01M502.6 268.5h.01M502.8 323.7h.01M503.1 304.2h.01M503.1 310.2h.01M503.3 269.6h.01M503.4 323.5h.01M503.4 267.5h.01M503.5 289.5h.01M503.5 302.1h.01M503.5 281.1h.01M503.6 289.8h.01M503.6 289.1h.01M503.7 309.6h.01M503.7 266.9h.01M503.7 312h.01M503.8 287h.01M503.9 280.2h.01M503.9 300h.01M503.9 282.6h.01M503.9 301.3h.01M504 301.7h.01M504 289.9h.01M504.1 314h.01M504.1 269.1h.01M504.2 322.5h.01M504.2 255.9h.01M504.5 288.7h.01M504.5 303h.01M504.5 321.7h.01M504.6 283.6h.01M504.6 283.6h.01M504.7 318.2h.01M504.7 259.6h.01M504.8 305.2h.01M504.8 302.4h.01M504.8 267.6h.01M504.9 297.5h.01M504.9 299.8h.01M504.9 282.2h.01M505.4 306.8h.01M505.8 299.7h.01M505.8 335.6h.01M505.9 300.7h.01M505.9 287.9h.01M505.9 326.3h.01M506 334.3h.01M506.1 259.1h.01M506.2 274.5h.01M506.2 261.9h.01M506.4 260.5h.01M506.4 262h.01M506.5 294.9h.01M506.5 303.1h.01M506.5 283.2h.01M506.6 283.1h.01M506.6 282.2h.01M506.7 275.2h.01M506.8 300.9h.01M506.8 324.8h.01M506.9 319.8h.01M507 295h.01M507 280.5h.01M507 301.5h.01M507.2 300.6h.01M507.2 283.1h.01M507.3 318.3h.01M507.5 336.6h.01M507.6 282.6h.01M507.7 306.2h.01M507.8 319h.01M507.8 276.1h.01M507.9 292.6h.01M508.1 317h.01M508.1 307.9h.01M508.2 330.5h.01M508.3 336.9h.01M508.6 317.8h.01M508.7 274.3h.01M508.9 336.3h.01M508.9 282.1h.01M509 315.7h.01M509.1 293h.01M509.1 261.8h.01M509.1 253.7h.01M509.5 318.5h.01M509.5 290.4h.01M509.5 261.6h.01M509.6 314.5h.01M509.6 276.8h.01M510.1 310h.01M510.2 293.2h.01M510.3 328.8h.01M510.4 255.1h.01M510.4 336.4h.01M510.5 317.5h.01M510.5 324.7h.01M510.7 297.1h.01M510.8 318.9h.01M510.8 317.7h.01M511 313.5h.01M511.2 329.4h.01M511.3 314.8h.01M511.3 325.9h.01M511.3 245.8h.01M511.4 305.1h.01M511.6 290.2h.01M511.7 291.4h.01M512 292.7h.01M512.1 314.9h.01M512.2 302.6h.01M512.2 277h.01M512.4 327.7h.01M512.4 302.6h.01M512.4 306.5h.01M512.4 254.1h.01M512.4 252.5h.01M512.5 326.6h.01M512.5 292.5h.01M512.5 329.9h.01M512.6 283.5h.01M512.7 320.3h.01M512.8 284.2h.01M512.8 291.9h.01M512.9 335.2h.01M512.9 278h.01M512.9 243.8h.01M512.9 306.4h.01M513 324h.01M513.1 306.5h.01M513.1 242.1h.01M513.2 290.6h.01M513.2 292.9h.01M513.4 252.7h.01M513.6 260.8h.01M513.7 327.9h.01M513.9 274.1h.01M514 261.3h.01M514.1 304.5h.01M514.1 290.4h.01M514.3 262.5h.01M514.3 306.9h.01M514.3 250.3h.01M514.4 261.1h.01M514.4 321.3h.01M514.6 291h.01M514.6 304.9h.01M514.6 258h.01M514.6 289.2h.01M514.7 260.1h.01M514.7 316.6h.01M514.8 315.5h.01M514.8 272.1h.01M514.9 306.2h.01M515 316.7h.01M515.1 309.7h.01M515.1 252.3h.01M515.1 271.5h.01M515.1 270.8h.01M515.2 252.1h.01M515.3 300.1h.01M515.4 311.2h.01M515.5 318.3h.01M515.6 251.8h.01M515.7 288.8h.01M515.7 280.1h.01M515.7 238.5h.01M515.8 273.4h.01M515.9 274.6h.01M515.9 312.8h.01M516 269.2h.01M516 288.4h.01M516.1 312h.01M516.1 268.7h.01M516.2 308h.01M516.3 273.9h.01M516.3 281.6h.01M516.3 316.3h.01M516.4 264.9h.01M516.5 278.2h.01M516.5 310.9h.01M516.6 302.7h.01M516.6 270.2h.01M516.6 272.7h.01M516.7 318.3h.01M516.8 247.2h.01M517 247.2h.01M517 314.8h.01M517 247.5h.01M517 319.3h.01M517.3 246h.01M517.3 286.8h.01M517.4 286.7h.01M517.4 246.5h.01M517.6 279.8h.01M517.6 318.6h.01M517.6 311.8h.01M517.7 275.6h.01M517.8 294.5h.01M517.8 242.2h.01M517.9 270.8h.01M517.9 280.9h.01M518 305.9h.01M518 287.9h.01M518 276.1h.01M518 315.7h.01M518.1 285h.01M518.2 309.5h.01M518.2 285.8h.01M518.2 245.7h.01M518.3 319.4h.01M518.3 276.9h.01M518.3 310.6h.01M518.4 316.7h.01M518.4 285.6h.01M518.4 315.2h.01M518.5 322.8h.01M518.5 281.4h.01M518.6 257.7h.01M518.6 315.9h.01M518.7 308h.01M518.7 315.3h.01M518.7 300.4h.01M519 278.6h.01M519 272.3h.01M519 302.9h.01M519.1 291.7h.01M519.1 291.6h.01M519.1 287.5h.01M519.2 257h.01M519.3 277.8h.01M519.3 298h.01M519.4 268.2h.01M519.4 308h.01M519.5 275h.01M519.5 284.9h.01M519.5 278.7h.01M519.6 326.1h.01M519.6 317.7h.01M519.8 281.9h.01M519.8 247.2h.01M520 273.1h.01M520.1 246.6h.01M520.2 250.2h.01M520.2 318.3h.01M520.3 264.4h.01M520.4 319.2h.01M520.4 325.7h.01M520.5 241.6h.01M520.6 244.2h.01M520.6 257.3h.01M520.6 273.3h.01M520.6 310.8h.01M520.8 305.4h.01M520.8 235.9h.01M520.8 263.9h.01M520.9 248h.01M520.9 274h.01M521 263.3h.01M521 319.6h.01M521 286.6h.01M521.1 272.1h.01M521.1 287.4h.01M521.2 308.6h.01M521.2 288.6h.01M521.2 256.1h.01M521.3 286.6h.01M521.3 273.1h.01M521.4 302.6h.01M521.5 272.8h.01M521.5 301h.01M521.5 239.4h.01M521.6 311h.01M521.6 326.5h.01M521.6 300.3h.01M521.7 263h.01M521.7 247.9h.01M521.8 268.7h.01M521.9 244.1h.01M522 290.2h.01M522 275.8h.01M522 297h.01M522.1 304.3h.01M522.2 247.9h.01M522.2 285.8h.01M522.2 291h.01M522.2 255.7h.01M522.3 277.1h.01M522.4 254.1h.01M522.4 296h.01M522.5 256.2h.01M522.5 292.6h.01M522.7 248.6h.01M522.8 318.6h.01M522.9 283.3h.01M522.9 266.9h.01M522.9 237.2h.01M523.1 262h.01M523.1 292.2h.01M523.2 253.8h.01M523.2 237.9h.01M523.3 308.8h.01M523.3 318h.01M523.4 293.7h.01M523.5 247.7h.01M523.5 238.6h.01M523.7 302.2h.01M523.8 251.2h.01M523.8 308.7h.01M523.8 321.1h.01M523.9 317.3h.01M524 262.5h.01M524 288.8h.01M524.3 309.2h.01M524.3 328.3h.01M524.4 320.6h.01M524.4 261.5h.01M524.5 278.8h.01M524.6 324.4h.01M524.6 259.6h.01M524.7 255.6h.01M524.8 274.7h.01M524.9 290.5h.01M524.9 274.4h.01M524.9 316h.01M525 321.1h.01M525 292.1h.01M525.4 282.6h.01M525.6 254h.01M525.6 285.1h.01M525.7 300.8h.01M525.9 241.9h.01M526.3 264.8h.01M526.3 315.1h.01M526.4 302.5h.01M526.4 304.6h.01M526.5 258.3h.01M526.5 331.2h.01M526.6 260.7h.01M526.6 262.4h.01M526.7 299.2h.01M526.8 257.9h.01M526.9 307.1h.01M526.9 309.1h.01M526.9 285.3h.01M527 254.5h.01M527 289.8h.01M527 258.5h.01M527 284.4h.01M527 246.4h.01M527 262.6h.01M527 295.2h.01M527.1 265.8h.01M527.2 300.5h.01M527.2 278.9h.01M527.4 302.4h.01M527.5 283h.01M527.5 282h.01M527.5 332.6h.01M527.6 283.9h.01M527.8 259.9h.01M527.8 287h.01M527.9 308.5h.01M527.9 259.1h.01M528 260.3h.01M528 260.6h.01M528 277.2h.01M528.1 296.2h.01M528.2 291.1h.01M528.2 260.6h.01M528.3 288.4h.01M528.3 266.3h.01M528.4 278.6h.01M528.4 331.9h.01M528.5 331.7h.01M528.5 251.5h.01M528.6 311.8h.01M528.6 331h.01M528.7 312.5h.01M528.7 274.9h.01M528.7 267.8h.01M528.7 304.1h.01M528.8 270.7h.01M528.8 331.3h.01M528.9 303.6h.01M528.9 313.4h.01M528.9 330.1h.01M529 252.4h.01M529.1 301.4h.01M529.1 279.6h.01M529.2 257.4h.01M529.3 259h.01M529.3 278h.01M529.4 319.5h.01M529.4 320.9h.01M529.5 320.7h.01M529.6 321.5h.01M529.6 280.4h.01M529.8 307.2h.01M529.8 304.6h.01M529.8 302.6h.01M530 280.7h.01M530 285.6h.01M530 320.5h.01M530 276h.01M530.1 268h.01M530.3 327h.01M530.3 260.9h.01M530.3 287h.01M530.4 310.3h.01M530.5 320.9h.01M530.5 267.2h.01M530.5 311.2h.01M530.7 266.5h.01M530.7 287.3h.01M530.7 306.7h.01M530.7 266.5h.01M530.7 268.5h.01M530.8 317.4h.01M530.8 301.7h.01M530.8 326.8h.01M531 309.1h.01M531 288.8h.01M531.1 289.7h.01M531.1 290.8h.01M531.2 306.2h.01M531.5 276.9h.01M531.6 266.1h.01M531.6 316.5h.01M531.8 296.8h.01M531.9 276.8h.01M532.2 331.4h.01M532.3 273.1h.01M532.4 312.7h.01M532.6 279.3h.01M532.8 315.3h.01M532.8 363.1h.01M532.8 359.7h.01M532.8 361.7h.01M532.9 264.1h.01M532.9 314.5h.01M533.1 353h.01M533.2 360.4h.01M533.2 320.8h.01M533.2 282.7h.01M533.3 282.3h.01M533.3 314.1h.01M533.4 361.1h.01M533.5 341.2h.01M533.6 315.6h.01M533.7 317.3h.01M533.8 317.3h.01M533.8 319h.01M533.9 303.5h.01M534.2 325.6h.01M534.3 318.7h.01M534.4 302h.01M534.5 281.1h.01M534.6 311.9h.01M534.6 314h.01M535.1 280.9h.01M535.3 286.4h.01M535.3 286.8h.01M535.3 279.4h.01M535.4 299.8h.01M535.5 348.1h.01M535.6 278.6h.01M535.6 311.7h.01M535.9 311.8h.01M536 354h.01M536 332.8h.01M536 321.6h.01M536.1 318.1h.01M536.2 332.1h.01M536.2 335.9h.01M536.3 282.2h.01M536.3 306h.01M536.3 337.7h.01M536.3 301.2h.01M536.4 332.2h.01M536.5 337.6h.01M536.6 311.5h.01M536.6 300.7h.01M536.9 311.5h.01M536.9 319.6h.01M537.2 307.5h.01M537.4 304h.01M537.4 334.8h.01M537.5 332.3h.01M537.5 320.2h.01M537.6 311.3h.01M537.8 313.1h.01M537.9 304.8h.01M538.1 338.8h.01M538.1 284.3h.01M538.1 312.5h.01M538.2 312.8h.01M538.2 322.3h.01M538.2 303.6h.01M538.2 313.2h.01M538.4 313.3h.01M538.5 277h.01M538.5 327.5h.01M538.5 277.6h.01M538.6 308.6h.01M538.6 326h.01M538.6 321.8h.01M538.7 301.9h.01M538.8 309.9h.01M538.9 301.5h.01M538.9 303h.01M539.1 309.5h.01M539.1 303h.01M539.1 279.4h.01M539.2 313.4h.01M539.2 342.3h.01M539.2 281.1h.01M539.3 309h.01M539.5 327.3h.01M539.5 321.9h.01M539.5 318h.01M539.6 325.5h.01M539.7 348.9h.01M539.7 308.1h.01M539.7 297.1h.01M539.8 318.6h.01M539.9 334h.01M539.9 326.6h.01M540 285h.01M540 335.3h.01M540.2 291.1h.01M540.2 320.4h.01M540.3 339.6h.01M540.3 350h.01M540.3 310.2h.01M540.3 325.6h.01M540.3 311.2h.01M540.4 335.4h.01M540.4 328.5h.01M540.4 321.3h.01M540.4 339.8h.01M540.5 283.6h.01M540.6 326.2h.01M540.6 313.4h.01M540.6 300.7h.01M540.6 339h.01M540.6 347.2h.01M540.7 334.5h.01M540.8 289.7h.01M541 282.6h.01M541.1 301.1h.01M541.1 281.1h.01M541.1 338h.01M541.2 346.5h.01M541.3 304h.01M541.4 312.9h.01M541.4 328.8h.01M541.4 291.7h.01M541.5 282.3h.01M541.5 293h.01M541.5 283.6h.01M541.5 290.7h.01M541.5 304.7h.01M541.7 350.6h.01M541.8 302h.01M541.8 309.5h.01M541.9 302.4h.01M541.9 325.2h.01M542.1 270.8h.01M542.1 312h.01M542.1 325.4h.01M542.2 258.4h.01M542.3 262.8h.01M542.3 338.1h.01M542.3 287.2h.01M542.4 339.6h.01M542.5 362.5h.01M542.5 325.6h.01M542.5 324.6h.01M542.7 265.8h.01M542.7 358.5h.01M542.7 340.9h.01M542.8 360.1h.01M542.8 272.7h.01M542.9 268.3h.01M543 331h.01M543 358h.01M543 292.4h.01M543 320.5h.01M543.1 310.1h.01M543.3 290.7h.01M543.4 308.1h.01M543.5 290.9h.01M543.6 277.2h.01M543.7 333.5h.01M543.7 319.4h.01M543.7 342.5h.01M543.7 319h.01M543.8 329.7h.01M543.8 338.5h.01M543.8 310.6h.01M543.8 344.8h.01M543.8 307.6h.01M543.8 283.6h.01M543.9 260.8h.01M543.9 296.6h.01M543.9 273.4h.01M543.9 260.9h.01M544.1 312.2h.01M544.1 343.1h.01M544.2 304.4h.01M544.3 275.6h.01M544.4 302.7h.01M544.4 355.5h.01M544.5 303.7h.01M544.6 293h.01M544.6 335.2h.01M544.7 254.8h.01M544.8 336.9h.01M544.8 356.3h.01M544.8 253.7h.01M544.9 278.8h.01M544.9 305.4h.01M544.9 316.8h.01M544.9 338.4h.01M545.2 361.8h.01M545.3 303.7h.01M545.3 315.4h.01M545.3 253.2h.01M545.4 284.4h.01M545.4 306.8h.01M545.5 322.3h.01M545.5 340.4h.01M545.5 324.9h.01M545.6 291.3h.01M545.6 332.6h.01M545.6 315.1h.01M545.6 297.1h.01M545.7 361.1h.01M545.7 345.1h.01M545.8 326.5h.01M545.8 287.7h.01M545.8 333.6h.01M545.8 341.7h.01M545.9 359.6h.01M545.9 293.7h.01M546 339h.01M546 338.9h.01M546.1 266.7h.01M546.2 290.2h.01M546.2 361h.01M546.3 301.1h.01M546.3 290.4h.01M546.3 259.4h.01M546.4 261.4h.01M546.5 254.3h.01M546.5 258.5h.01M546.5 319.2h.01M546.6 293.3h.01M546.9 270.2h.01M547 263.4h.01M547.1 266.1h.01M547.1 290.7h.01M547.1 362.5h.01M547.2 318.8h.01M547.2 269.7h.01M547.3 332.1h.01M547.3 258.5h.01M547.3 342.3h.01M547.3 292.8h.01M547.3 255.1h.01M547.4 330.2h.01M547.4 308.3h.01M547.4 256.3h.01M547.5 293.1h.01M547.5 253.6h.01M547.5 303h.01M547.6 287.8h.01M547.6 335.1h.01M547.8 264h.01M547.8 264h.01M547.9 286.9h.01M547.9 350.7h.01M547.9 328.8h.01M547.9 304.4h.01M548 300.7h.01M548.1 350.8h.01M548.2 325.8h.01M548.3 283.1h.01M548.8 307.7h.01M548.9 289.1h.01M548.9 264.5h.01M549 299.9h.01M549 263h.01M549 343.9h.01M549 346.7h.01M549 282.5h.01M549 310.6h.01M549.2 344.2h.01M549.3 272.3h.01M549.3 306.6h.01M549.3 315.7h.01M549.4 308.2h.01M549.4 324.1h.01M549.4 286.3h.01M549.6 305.8h.01M549.6 290.5h.01M549.7 345.8h.01M549.7 270.3h.01M549.8 263.1h.01M549.8 328.2h.01M550 315.4h.01M550 290.9h.01M550 287.5h.01M550 305.9h.01M550 273h.01M550 324.8h.01M550.2 322.4h.01M550.2 284.4h.01M550.3 320.5h.01M550.4 288.2h.01M550.5 323.2h.01M550.6 279h.01M550.6 322.3h.01M550.7 266.7h.01M550.8 317.4h.01M550.9 259.8h.01M550.9 262.3h.01M550.9 268.7h.01M551 324.3h.01M551 341.9h.01M551.1 282.4h.01M551.1 276.7h.01M551.1 334.3h.01M551.2 314.7h.01M551.2 301.7h.01M551.2 292.7h.01M551.2 326.2h.01M551.3 309.6h.01M551.4 258.1h.01M551.4 301.7h.01M551.5 334.5h.01M551.5 308.2h.01M551.6 281.2h.01M551.7 339.7h.01M551.8 313.1h.01M551.8 345.1h.01M551.8 300h.01M551.8 270.7h.01M552 341.8h.01M552 262.6h.01M552.1 322h.01M552.1 269.4h.01M552.1 345.2h.01M552.1 290.3h.01M552.2 336.3h.01M552.2 320.2h.01M552.2 322.9h.01M552.3 268.7h.01M552.3 322.2h.01M552.3 284.2h.01M552.6 272.4h.01M552.7 340.5h.01M552.7 292.1h.01M552.8 266.4h.01M553 307.5h.01M553 263.1h.01M553.2 268h.01M553.2 297.1h.01M553.3 336.6h.01M553.5 322.8h.01M553.5 300.6h.01M553.5 285.6h.01M553.6 319.2h.01M553.7 331.4h.01M554.1 294.1h.01M554.1 280.2h.01M554.2 295.8h.01M554.3 301.7h.01M121.2 118.2h.01M128.2 118.2h.01M114.2 127.5h.01M141.4 140.2h.01M155.4 156.2h.01M162.5 160.5h.01M161 163h.01M161 166.5h.01M161 170h.01M133.9 161.2h.01M133.5 170.6h.01M142.2 172.5h.01M136 173.8h.01M133.5 177h.01M139.1 180h.01M132.9 183.8h.01M144.8 185h.01M135.4 187.5h.01M163.5 177.5h.01M167.9 180h.01M159.8 179.4h.01M161 182.5h.01M153.5 185.6h.01M163.5 185h.01M166.6 188.8h.01M188.5 103.2h.01M189.8 104.5h.01M189.5 112.2h.01M183.5 114.4h.01M190.4 118.5h.01M177.5 120.4h.01M185.4 125.4h.01M182.2 126.6h.01M177.5 128.5h.01M186 132.9h.01M182.2 134.8h.01M190.4 136.2h.01M182.2 139.8h.01M176.6 143.2h.01M186 142.9h.01M189.1 143.5h.01M208.5 108.5h.01M208.5 126.6h.01M208.5 129.5h.01M208.5 132h.01M208.5 134.8h.01M203.5 143.2h.01M210.4 142.2h.01M208.5 147.9h.01M202.2 150.4h.01M205.4 151.6h.01M208.5 155.4h.01M204 151.2h.01M208.5 156.9h.01M209.8 161.2h.01M202.2 164.4h.01M221.4 180.4h.01M216.5 248h.01M226.6 251.2h.01M233.2 249.4h.01M221 250.5h.01M229.8 253h.01M257.5 97.5h.01M254.5 152h.01M257.5 167h.01M295.5 149.5h.01M320.5 173.2h.01M359.5 176.5h.01M386.5 74.4h.01M399.5 93.4h.01M400.4 107.4h.01M393.4 113.5h.01M400.4 129.4h.01M398.4 138.4h.01M400.4 151.2h.01M400.4 159.4h.01M400.4 162h.01M455.5 165.2h.01M360 177.2h.01M254.8 197.5h.01M255.6 199.4h.01M254.4 205h.01M253 208.8h.01M254.4 209.4h.01M248.8 219h.01M252.5 220h.01M243 231.2h.01M249.4 230.4h.01M265.6 223h.01M264.4 227h.01M253.5 210.6h.01M248.5 219.4h.01M252.2 220h.01M243.5 231.2h.01M266.2 191.2h.01M276.5 179.4h.01M274.4 185.2h.01M294.4 192.2h.01M302.2 194.4h.01M298 204.4h.01M296.2 208h.01M294.4 212h.01M296.2 215h.01M305.4 222.2h.01M320 175h.01M319.4 185.2h.01M334.4 188h.01M325.6 204h.01M326.2 205.6h.01M318.8 210h.01M320.6 212.5h.01M318.1 218h.01M325 218.5h.01M339.4 202h.01M339.4 206.2h.01M340 210.6h.01M339.4 219.4h.01M333.5 216.2h.01M348.1 214.4h.01M348.1 218h.01M340.6 228h.01M359.4 177h.01M361.2 184.4h.01M358 195h.01M357 200h.01M361.2 204.4h.01M369.4 195h.01M357.5 208h.01M361.5 208h.01M373 224.4h.01M377.5 220h.01M378.1 229.4h.01M362 184.4h.01M362.5 203.8h.01M411.2 198.5h.01M406.2 195.6h.01M406.2 209.4h.01M417.5 223h.01M413 226.2h.01M412.5 230.6h.01M413.8 233h.01M422.5 235.2h.01M428 195.6h.01M433.8 199.4h.01M427.5 204.4h.01M434.4 208h.01M429.4 208.8h.01M438 213h.01M451.2 182h.01M450 199.4h.01M449.4 203.8h.01M455.6 206.2h.01M450.6 212h.01M446.2 218h.01M457.5 219.4h.01M471.2 197h.01M470.6 204.4h.01M472.5 207h.01M471.2 213.8h.01M471.2 221.2h.01M470 226.2h.01M472.5 228h.01M472.5 233h.01M470 237.5h.01M526.5 204.4h.01M518.5 218.4h.01M505.6 223h.01M506.2 228.5h.01M518.5 224.4h.01M524.4 225h.01M523 229.4h.01M518.5 230h.01M536.5 229.4h.01M545.4 229.4h.01M514.4 234.4h.01M518 236.2h.01M525.6 237.2h.01M541.2 235h.01M543 238h.01M542.5 241.2h.01M551.2 242.5h.01M504 243.8h.01M517.5 242h.01M512 246.2h.01M527 244.4h.01M544.4 246.2h.01M547 248h.01M504.4 253h.01M536.2 253h.01M552.5 253.8h.01M542.5 254.4h.01M545.6 256.9h.01M103.5 315h.01M104.5 320h.01M103.5 328h.01M103.5 336h.01M103.5 345h.01M103.8 369.5h.01M105.8 368.8h.01M111 274.4h.01M117.2 278h.01M116.6 287.5h.01M117.2 308h.01M117.5 308.4h.01M124.5 322.2h.01M136.4 317.2h.01M123.8 357h.01M130.5 382.5h.01M157.2 295.6h.01M157.2 301.2h.01M157.2 312.5h.01M157.2 342.5h.01M162.5 282.5h.01M156.2 286.2h.01M157.5 295h.01M157.5 301.2h.01M166.2 291.2h.01M149.5 353h.01M148.8 345.8h.01M147.5 361.2h.01M150.8 360.2h.01M170.4 331.2h.01M172.5 346.2h.01M180.5 346.2h.01M180.5 314h.01M180.6 280.6h.01M185.6 285h.01M180.6 291.2h.01M180.6 295.6h.01M180 313.8h.01M193.1 288.8h.01M193.1 292.5h.01M193.1 298h.01M193.8 306.2h.01M193.8 310h.01M193.8 318h.01M193.8 324h.01M193.8 330h.01M193.8 338.2h.01M200 270.6h.01M204.4 271.2h.01M203.1 281.9h.01M202.5 288.8h.01M199.4 296.2h.01M205 300h.01M203.8 307.5h.01M203.8 314h.01M200 322h.01M197.5 335.8h.01M201.2 334.5h.01M203.5 281.9h.01M202.2 288.8h.01M199.8 297h.01M204.8 300h.01M203.5 307.5h.01M204.1 312.5h.01M204.8 315.6h.01M200.4 322.5h.01M217.2 360h.01M227.9 358.8h.01M228.5 362.5h.01M223.5 364.4h.01M226.6 367.5h.01M226 367h.01M233 370h.01M237 367.5h.01M239 370.6h.01M238.5 375.2h.01M236.6 381.2h.01M241 380.2h.01M223.5 383h.01M223.5 385.6h.01M236.4 385.6h.01M237.2 398h.01M237.2 402.2h.01M240.4 410.4h.01M256.6 327.5h.01M261.4 360.2h.01M262.2 374.4h.01M272.2 322h.01M272.2 332.5h.01M272.2 337h.01M272.2 341.9h.01M283.8 362.5h.01M284.4 367.5h.01M286.5 375.4h.01M283.5 385.4h.01M285.4 401.2h.01M284 367h.01M285.4 375.6h.01M299.8 312.2h.01M313 350h.01M307.9 355.2h.01M312.5 360.2h.01M309.4 362.5h.01M308 365.6h.01M306.2 369.4h.01M308.5 370.2h.01M309.4 389.4h.01M306.2 391.2h.01M303.1 345.2h.01M308.8 346.9h.01M313.8 344.4h.01M314.4 348.1h.01M311.2 358.8h.01M328.1 333.1h.01M331.9 334.4h.01M336.2 338.1h.01M331.2 341.2h.01M331.2 346.2h.01M330.4 378.4h.01M343.5 322.2h.01M349.4 322.5h.01M349.8 366.2h.01M352.5 394.5h.01M353.8 331.2h.01M365 323.8h.01M368.1 326.9h.01M378.8 323.1h.01M380.6 328.1h.01M377.5 320.6h.01M363.8 320h.01M366.2 330.6h.01M371.2 332.5h.01M376.2 332.5h.01M381.2 333.1h.01M381.2 326.2h.01M380 318.1h.01M381.2 311.9h.01M374.4 345.6h.01M374.4 350h.01M381.2 350h.01M375 360.8h.01M381.2 368.2h.01M379.2 371.2h.01M371.8 374.5h.01M371.8 396.2h.01M396.5 323.4h.01M394.4 258.8h.01M396.9 264.4h.01M397.2 276.2h.01M396.2 291.2h.01M403.8 337.5h.01M410.6 344.4h.01M404.4 337.5h.01M407.5 332.5h.01M418.8 338.1h.01M422.5 335h.01M444.4 339.4h.01M444.4 342.5h.01M444.4 348h.01M451.2 347.5h.01M444.4 354.4h.01M444.4 358.8h.01M443 362.5h.01M452.5 332h.01M454.4 329h.01M462.5 376.2h.01M467.5 376.2h.01M462.2 383h.01M466.2 385.2h.01M464.4 387h.01M465.4 392.5h.01M506 340h.01M506 346h.01M512 345h.01M515.6 343h.01M512.5 357h.01M512.5 360h.01M512.5 374.4h.01M512.5 383.5h.01M534.4 375h.01M535.6 378.1h.01M538.5 378.1h.01M538.5 382.5h.01M534.4 392.5h.01M543.5 368h.01M546.6 371h.01M543.5 372h.01M546.6 374.4h.01M546.5 395.4h.01M552.5 348.8h.01" fill="none" stroke="#f00" stroke-width="5.5" stroke-linecap="round"/>
<rect x="80.55" y="58.55" width="496" height="369" fill="none" stroke="#000" stroke-width="1.1"/>
<path d="M112.55 428v4.8M169.55 428v4.8M226.55 428v4.8M282.55 428v4.8M339.55 428v4.8M396.55 428v4.8M453.55 428v4.8M509.55 428v4.8M566.55 428v4.8M80 122.55h-4.9M80 191.55h-4.9M80 259.55h-4.9M80 328.55h-4.9M80 396.55h-4.9" stroke="#000" stroke-width="1.1" fill="none"/>
<text x="88.21" y="448" font-size="14" textLength="48.6" lengthAdjust="spacingAndGlyphs">2000.0</text>
<text x="144.96" y="448" font-size="14" textLength="48.6" lengthAdjust="spacingAndGlyphs">2002.5</text>
<text x="201.71" y="448" font-size="14" textLength="48.6" lengthAdjust="spacingAndGlyphs">2005.0</text>
<text x="258.46" y="448" font-size="14" textLength="48.6" lengthAdjust="spacingAndGlyphs">2007.5</text>
<text x="315.21" y="448" font-size="14" textLength="48.6" lengthAdjust="spacingAndGlyphs">2010.0</text>
<text x="371.96" y="448" font-size="14" textLength="48.6" lengthAdjust="spacingAndGlyphs">2012.5</text>
<text x="428.71" y="448" font-size="14" textLength="48.6" lengthAdjust="spacingAndGlyphs">2015.0</text>
<text x="485.46" y="448" font-size="14" textLength="48.6" lengthAdjust="spacingAndGlyphs">2017.5</text>
<text x="542.21" y="448" font-size="14" textLength="48.6" lengthAdjust="spacingAndGlyphs">2020.0</text>
<text x="38.58" y="128.00" font-size="14" textLength="30.9" lengthAdjust="spacingAndGlyphs">0.01</text>
<text x="38.58" y="196.50" font-size="14" textLength="30.9" lengthAdjust="spacingAndGlyphs">0.00</text>
<text x="26.94" y="265.00" font-size="14" textLength="42.6" lengthAdjust="spacingAndGlyphs">−0.01</text>
<text x="26.94" y="333.50" font-size="14" textLength="42.6" lengthAdjust="spacingAndGlyphs">−0.02</text>
<text x="26.94" y="402.00" font-size="14" textLength="42.6" lengthAdjust="spacingAndGlyphs">−0.03</text>
<text x="298.37" y="49.2" font-size="16.9" textLength="57.3" lengthAdjust="spacingAndGlyphs">LLAS V</text>
<text transform="translate(20.3,251.20) rotate(-90)" font-size="14" textLength="14.7" lengthAdjust="spacingAndGlyphs">m</text>
<rect x="87.9" y="65.6" width="191.9" height="24.9" rx="2.8" fill="#fff" fill-opacity="0.8" stroke="#dcdcdc" stroke-width="1.2"/>
<circle cx="106.6" cy="76.5" r="2.75" fill="#f00"/>
<text x="135.3" y="81.2" font-size="14" textLength="137.7" lengthAdjust="spacingAndGlyphs">repro2018a (IGS14)</text>
</g></svg>
</body></html>
